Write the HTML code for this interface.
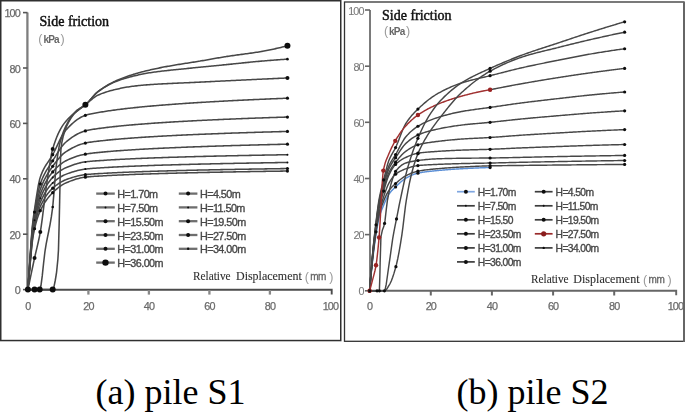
<!DOCTYPE html>
<html><head><meta charset="utf-8"><style>html,body{margin:0;padding:0;background:#fff;width:685px;height:412px;overflow:hidden}svg{display:block}</style></head>
<body>
<svg width="685" height="412" viewBox="0 0 685 412"><defs><filter id="soft" x="0" y="0" width="100%" height="100%"><feGaussianBlur stdDeviation="0.6"/></filter></defs><style>.tk{font-family:"Liberation Sans",sans-serif;font-size:10.8px;fill:#6a6a6a;stroke:#6a6a6a;stroke-width:0.25px;letter-spacing:-0.9px}.lg{font-family:"Liberation Sans",sans-serif;font-size:10.8px;fill:#474747;stroke:#474747;stroke-width:0.35px;letter-spacing:-0.55px}.tkr{fill:#7a7a7a;stroke:#7a7a7a;stroke-width:0.1px}.lg2{font-family:"Liberation Sans",sans-serif;font-size:10.3px;fill:#474747;stroke:#474747;stroke-width:0.35px;letter-spacing:-0.6px}.ttl{font-family:"Liberation Serif",serif;font-size:14px;fill:#111;stroke:#111;stroke-width:0.45px}.un{font-family:"Liberation Sans",sans-serif;font-size:10px;fill:#666;letter-spacing:-0.8px;font-weight:bold}.par{font-family:"Liberation Sans",sans-serif;font-size:12.5px;fill:#9a9a9a}.mm{font-family:"Liberation Sans",sans-serif;font-size:10px;fill:#666;stroke:#666;stroke-width:0.3px;letter-spacing:-0.4px}.xl{font-family:"Liberation Serif",serif;font-size:11.5px;fill:#2e2e2e;stroke:#2e2e2e;stroke-width:0.1px}.cap{font-family:"Liberation Serif",serif;font-size:36px;fill:#000}</style><rect width="685" height="412" fill="#fff"/><g filter="url(#soft)"><path d="M27.4,12.6 V289.8" fill="none" stroke="#7e7e7e" stroke-width="2.3"/><path d="M27.4,289.8 H331.7 V294.5" fill="none" stroke="#4c4c4c" stroke-width="1.9"/><line x1="23" y1="289.6" x2="27.5" y2="289.6" stroke="#555" stroke-width="1.6"/><text x="19.8" y="294.2" text-anchor="end" class="tk">0</text><line x1="23" y1="234.2" x2="27.5" y2="234.2" stroke="#555" stroke-width="1.6"/><text x="19.8" y="238.8" text-anchor="end" class="tk">20</text><line x1="23" y1="178.8" x2="27.5" y2="178.8" stroke="#555" stroke-width="1.6"/><text x="19.8" y="183.4" text-anchor="end" class="tk">40</text><line x1="23" y1="123.4" x2="27.5" y2="123.4" stroke="#555" stroke-width="1.6"/><text x="19.8" y="128.0" text-anchor="end" class="tk">60</text><line x1="23" y1="68.0" x2="27.5" y2="68.0" stroke="#555" stroke-width="1.6"/><text x="19.8" y="72.6" text-anchor="end" class="tk">80</text><line x1="23" y1="12.6" x2="27.5" y2="12.6" stroke="#555" stroke-width="1.6"/><text x="19.8" y="17.2" text-anchor="end" class="tk">100</text><line x1="88.4" y1="290" x2="88.4" y2="294.6" stroke="#888" stroke-width="2.3"/><line x1="148.9" y1="290" x2="148.9" y2="294.6" stroke="#888" stroke-width="2.3"/><line x1="209.4" y1="290" x2="209.4" y2="294.6" stroke="#888" stroke-width="2.3"/><line x1="269.9" y1="290" x2="269.9" y2="294.6" stroke="#888" stroke-width="2.3"/><text x="27.9" y="309.6" text-anchor="middle" class="tk">0</text><text x="88.4" y="309.6" text-anchor="middle" class="tk">20</text><text x="148.9" y="309.6" text-anchor="middle" class="tk">40</text><text x="209.4" y="309.6" text-anchor="middle" class="tk">60</text><text x="269.9" y="309.6" text-anchor="middle" class="tk">80</text><text x="330.4" y="309.6" text-anchor="middle" class="tk">100</text><path d="M370,10.0 V290.8" fill="none" stroke="#5a5a5a" stroke-width="1.6"/><path d="M370,290.7 H676.2 V295.2" fill="none" stroke="#666" stroke-width="1.9"/><line x1="365" y1="290.8" x2="370" y2="290.8" stroke="#666" stroke-width="1.6"/><text x="363.6" y="295.3" text-anchor="end" class="tk tkr">0</text><line x1="365" y1="234.6" x2="370" y2="234.6" stroke="#666" stroke-width="1.6"/><text x="363.6" y="239.1" text-anchor="end" class="tk tkr">20</text><line x1="365" y1="178.5" x2="370" y2="178.5" stroke="#666" stroke-width="1.6"/><text x="363.6" y="183.0" text-anchor="end" class="tk tkr">40</text><line x1="365" y1="122.3" x2="370" y2="122.3" stroke="#666" stroke-width="1.6"/><text x="363.6" y="126.8" text-anchor="end" class="tk tkr">60</text><line x1="365" y1="66.2" x2="370" y2="66.2" stroke="#666" stroke-width="1.6"/><text x="363.6" y="70.7" text-anchor="end" class="tk tkr">80</text><line x1="365" y1="10.0" x2="370" y2="10.0" stroke="#666" stroke-width="1.6"/><text x="363.6" y="14.5" text-anchor="end" class="tk tkr">100</text><line x1="430.8" y1="290.8" x2="430.8" y2="295.5" stroke="#666" stroke-width="2"/><line x1="491.9" y1="290.8" x2="491.9" y2="295.5" stroke="#666" stroke-width="2"/><line x1="553.1" y1="290.8" x2="553.1" y2="295.5" stroke="#666" stroke-width="2"/><line x1="614.2" y1="290.8" x2="614.2" y2="295.5" stroke="#666" stroke-width="2"/><text x="369.6" y="310" text-anchor="middle" class="tk">0</text><text x="430.8" y="310" text-anchor="middle" class="tk">20</text><text x="491.9" y="310" text-anchor="middle" class="tk">40</text><text x="553.1" y="310" text-anchor="middle" class="tk">60</text><text x="614.2" y="310" text-anchor="middle" class="tk">80</text><text x="675.4" y="310" text-anchor="middle" class="tk">100</text><text x="39.5" y="25.8" class="ttl">Side friction</text><text x="38.3" y="43.2" class="par">(</text><text x="43.4" y="42.8" class="un">kPa</text><text x="60.6" y="43.2" class="par">)</text><text x="382" y="19.8" class="ttl">Side friction</text><text x="383.9" y="35.4" class="par">(</text><text x="389" y="35" class="un">kPa</text><text x="406.1" y="35.4" class="par">)</text><text x="193" y="280.2" class="xl" textLength="37.6" lengthAdjust="spacingAndGlyphs">Relative</text><text x="236" y="280.2" class="xl" textLength="65.8" lengthAdjust="spacingAndGlyphs">Displacement</text><text x="304.8" y="280.8" class="par">(</text><text x="310.2" y="280.2" class="mm">mm</text><text x="329.2" y="280.8" class="par">)</text><text x="531" y="283" class="xl" textLength="37.6" lengthAdjust="spacingAndGlyphs">Relative</text><text x="573.3" y="283" class="xl" textLength="66.2" lengthAdjust="spacingAndGlyphs">Displacement</text><text x="643" y="283.6" class="par">(</text><text x="648.5" y="283" class="mm">mm</text><text x="667.5" y="283.6" class="par">)</text><path d="M27.90,289.60 L29.20,274.41 L30.32,262.18 L30.51,260.15 L31.81,246.21 L32.44,240.85 L33.12,236.22 L34.42,229.24 L34.55,228.66 L35.73,223.96 L37.03,219.37 L38.33,215.43 L39.64,212.11 L40.30,210.66 L40.94,209.35 L42.25,206.85 L43.55,204.54 L44.86,202.41 L46.16,200.45 L47.46,198.64 L48.77,196.97 L50.07,195.43 L51.38,194.00 L52.68,192.67 L52.70,192.65 L53.98,191.42 L55.29,190.21 L56.59,189.07 L57.90,187.98 L59.20,186.96 L60.51,186.02 L61.81,185.14 L63.11,184.35 L64.42,183.65 L65.71,183.03 L65.72,183.03 L67.03,182.46 L68.33,181.92 L69.64,181.39 L70.94,180.88 L72.24,180.40 L73.55,179.94 L74.85,179.51 L76.16,179.10 L77.46,178.73 L78.77,178.38 L80.07,178.06 L81.37,177.78 L82.68,177.53 L83.98,177.32 L85.29,177.15 L85.38,177.14 L86.59,177.00 L87.90,176.87 L89.20,176.75 L90.50,176.64 L91.81,176.53 L93.11,176.44 L94.42,176.35 L95.72,176.27 L97.03,176.19 L98.33,176.11 L99.63,176.04 L100.94,175.97 L102.24,175.90 L103.53,175.82 L103.55,175.82 L104.85,175.75 L106.15,175.68 L107.46,175.60 L108.76,175.54 L110.07,175.47 L111.37,175.40 L112.68,175.34 L113.98,175.27 L115.28,175.21 L116.59,175.15 L117.89,175.09 L119.20,175.03 L120.50,174.97 L121.81,174.92 L123.11,174.86 L124.41,174.81 L125.72,174.75 L127.02,174.70 L128.33,174.65 L129.63,174.60 L130.94,174.54 L132.24,174.49 L133.54,174.44 L133.78,174.44 L134.85,174.39 L136.15,174.35 L137.46,174.30 L138.76,174.25 L140.07,174.20 L141.37,174.16 L142.67,174.11 L143.98,174.07 L145.28,174.03 L146.59,173.98 L147.89,173.94 L149.19,173.90 L150.50,173.86 L151.80,173.82 L153.11,173.77 L154.41,173.73 L155.72,173.70 L157.02,173.66 L158.32,173.62 L159.63,173.58 L160.93,173.54 L162.24,173.50 L163.54,173.47 L164.03,173.45 L164.85,173.43 L166.15,173.39 L167.45,173.36 L168.76,173.32 L170.06,173.29 L171.37,173.25 L172.67,173.22 L173.98,173.18 L175.28,173.15 L176.58,173.11 L177.89,173.08 L179.19,173.05 L180.50,173.02 L181.80,172.98 L183.11,172.95 L184.41,172.92 L185.71,172.89 L187.02,172.86 L188.32,172.83 L189.63,172.80 L190.93,172.77 L192.24,172.74 L193.54,172.71 L194.28,172.69 L194.84,172.68 L196.15,172.65 L197.45,172.62 L198.76,172.59 L200.06,172.56 L201.36,172.53 L202.67,172.50 L203.97,172.48 L205.28,172.45 L206.58,172.42 L207.89,172.39 L209.19,172.37 L210.49,172.34 L211.80,172.31 L213.10,172.29 L214.41,172.26 L215.71,172.23 L217.02,172.21 L218.32,172.18 L219.62,172.16 L220.93,172.13 L222.23,172.11 L223.54,172.08 L224.53,172.06 L224.84,172.06 L226.15,172.03 L227.45,172.01 L228.75,171.98 L230.06,171.96 L231.36,171.94 L232.67,171.91 L233.97,171.89 L235.28,171.87 L236.58,171.84 L237.88,171.82 L239.19,171.80 L240.49,171.77 L241.80,171.75 L243.10,171.73 L244.40,171.71 L245.71,171.69 L247.01,171.66 L248.32,171.64 L249.62,171.62 L250.93,171.60 L252.23,171.58 L253.53,171.56 L254.78,171.54 L254.84,171.53 L256.14,171.51 L257.45,171.49 L258.75,171.47 L260.06,171.45 L261.36,171.43 L262.66,171.41 L263.97,171.39 L265.27,171.37 L266.58,171.35 L267.88,171.33 L269.19,171.31 L270.49,171.29 L271.79,171.27 L273.10,171.25 L274.40,171.23 L275.71,171.21 L277.01,171.19 L278.32,171.17 L279.62,171.15 L280.92,171.14 L282.23,171.12 L283.53,171.10 L284.84,171.08 L286.14,171.06 L287.44,171.04" fill="none" stroke="#474747" stroke-width="1.55"/>
<path d="M27.90,289.60 L29.20,273.72 L30.32,260.93 L30.51,258.81 L31.81,244.24 L32.44,238.63 L33.12,233.81 L34.42,226.51 L34.55,225.89 L35.73,220.86 L37.03,215.88 L38.33,211.60 L39.64,208.03 L40.30,206.50 L40.94,205.15 L42.25,202.55 L43.55,200.15 L44.86,197.94 L46.16,195.92 L47.46,194.07 L48.77,192.39 L50.07,190.86 L51.38,189.48 L52.68,188.24 L52.70,188.22 L53.98,187.09 L55.29,186.01 L56.59,185.00 L57.90,184.05 L59.20,183.17 L60.51,182.36 L61.81,181.62 L63.11,180.94 L64.42,180.33 L65.71,179.80 L65.72,179.80 L67.03,179.31 L68.33,178.83 L69.64,178.37 L70.94,177.94 L72.24,177.52 L73.55,177.12 L74.85,176.75 L76.16,176.39 L77.46,176.07 L78.77,175.76 L80.07,175.49 L81.37,175.24 L82.68,175.01 L83.98,174.82 L85.29,174.66 L85.38,174.65 L86.59,174.51 L87.90,174.38 L89.20,174.26 L90.50,174.15 L91.81,174.05 L93.11,173.95 L94.42,173.86 L95.72,173.78 L97.03,173.70 L98.33,173.62 L99.63,173.55 L100.94,173.48 L102.24,173.40 L103.53,173.33 L103.55,173.33 L104.85,173.25 L106.15,173.18 L107.46,173.11 L108.76,173.04 L110.07,172.98 L111.37,172.91 L112.68,172.84 L113.98,172.78 L115.28,172.72 L116.59,172.66 L117.89,172.60 L119.20,172.54 L120.50,172.48 L121.81,172.42 L123.11,172.37 L124.41,172.31 L125.72,172.26 L127.02,172.21 L128.33,172.15 L129.63,172.10 L130.94,172.05 L132.24,172.00 L133.54,171.95 L133.78,171.94 L134.85,171.90 L136.15,171.85 L137.46,171.81 L138.76,171.76 L140.07,171.71 L141.37,171.67 L142.67,171.62 L143.98,171.58 L145.28,171.53 L146.59,171.49 L147.89,171.45 L149.19,171.40 L150.50,171.36 L151.80,171.32 L153.11,171.28 L154.41,171.24 L155.72,171.20 L157.02,171.16 L158.32,171.12 L159.63,171.09 L160.93,171.05 L162.24,171.01 L163.54,170.97 L164.03,170.96 L164.85,170.94 L166.15,170.90 L167.45,170.86 L168.76,170.83 L170.06,170.79 L171.37,170.76 L172.67,170.72 L173.98,170.69 L175.28,170.65 L176.58,170.62 L177.89,170.59 L179.19,170.55 L180.50,170.52 L181.80,170.49 L183.11,170.46 L184.41,170.43 L185.71,170.40 L187.02,170.36 L188.32,170.33 L189.63,170.30 L190.93,170.27 L192.24,170.24 L193.54,170.21 L194.28,170.20 L194.84,170.18 L196.15,170.15 L197.45,170.12 L198.76,170.10 L200.06,170.07 L201.36,170.04 L202.67,170.01 L203.97,169.98 L205.28,169.95 L206.58,169.93 L207.89,169.90 L209.19,169.87 L210.49,169.85 L211.80,169.82 L213.10,169.79 L214.41,169.77 L215.71,169.74 L217.02,169.72 L218.32,169.69 L219.62,169.66 L220.93,169.64 L222.23,169.61 L223.54,169.59 L224.53,169.57 L224.84,169.57 L226.15,169.54 L227.45,169.52 L228.75,169.49 L230.06,169.47 L231.36,169.44 L232.67,169.42 L233.97,169.40 L235.28,169.37 L236.58,169.35 L237.88,169.33 L239.19,169.30 L240.49,169.28 L241.80,169.26 L243.10,169.24 L244.40,169.21 L245.71,169.19 L247.01,169.17 L248.32,169.15 L249.62,169.13 L250.93,169.11 L252.23,169.08 L253.53,169.06 L254.78,169.04 L254.84,169.04 L256.14,169.02 L257.45,169.00 L258.75,168.98 L260.06,168.96 L261.36,168.94 L262.66,168.92 L263.97,168.90 L265.27,168.88 L266.58,168.86 L267.88,168.84 L269.19,168.82 L270.49,168.80 L271.79,168.78 L273.10,168.76 L274.40,168.74 L275.71,168.72 L277.01,168.70 L278.32,168.68 L279.62,168.66 L280.92,168.64 L282.23,168.62 L283.53,168.61 L284.84,168.59 L286.14,168.57 L287.44,168.55" fill="none" stroke="#474747" stroke-width="1.55"/>
<path d="M27.90,289.60 L29.20,273.03 L30.32,259.68 L30.51,257.47 L31.81,242.27 L32.44,236.42 L33.12,231.39 L34.42,223.77 L34.55,223.12 L35.73,217.77 L37.03,212.43 L38.33,207.82 L39.64,203.98 L40.30,202.35 L40.94,200.90 L42.25,198.13 L43.55,195.58 L44.86,193.23 L46.16,191.07 L47.46,189.11 L48.77,187.33 L50.07,185.72 L51.38,184.27 L52.68,182.98 L52.70,182.96 L53.98,181.80 L55.29,180.69 L56.59,179.65 L57.90,178.69 L59.20,177.79 L60.51,176.96 L61.81,176.21 L63.11,175.52 L64.42,174.91 L65.71,174.37 L65.72,174.36 L67.03,173.86 L68.33,173.38 L69.64,172.91 L70.94,172.47 L72.24,172.04 L73.55,171.64 L74.85,171.26 L76.16,170.91 L77.46,170.57 L78.77,170.26 L80.07,169.98 L81.37,169.72 L82.68,169.49 L83.98,169.29 L85.29,169.12 L85.38,169.11 L86.59,168.96 L87.90,168.82 L89.20,168.69 L90.50,168.57 L91.81,168.46 L93.11,168.35 L94.42,168.26 L95.72,168.16 L97.03,168.08 L98.33,167.99 L99.63,167.91 L100.94,167.83 L102.24,167.75 L103.53,167.67 L103.55,167.67 L104.85,167.59 L106.15,167.51 L107.46,167.43 L108.76,167.36 L110.07,167.28 L111.37,167.21 L112.68,167.14 L113.98,167.07 L115.28,167.00 L116.59,166.94 L117.89,166.87 L119.20,166.81 L120.50,166.74 L121.81,166.68 L123.11,166.62 L124.41,166.56 L125.72,166.50 L127.02,166.44 L128.33,166.39 L129.63,166.33 L130.94,166.28 L132.24,166.22 L133.54,166.17 L133.78,166.16 L134.85,166.11 L136.15,166.06 L137.46,166.01 L138.76,165.96 L140.07,165.90 L141.37,165.86 L142.67,165.81 L143.98,165.76 L145.28,165.71 L146.59,165.66 L147.89,165.62 L149.19,165.57 L150.50,165.53 L151.80,165.48 L153.11,165.44 L154.41,165.39 L155.72,165.35 L157.02,165.31 L158.32,165.26 L159.63,165.22 L160.93,165.18 L162.24,165.14 L163.54,165.10 L164.03,165.08 L164.85,165.06 L166.15,165.02 L167.45,164.98 L168.76,164.94 L170.06,164.90 L171.37,164.86 L172.67,164.83 L173.98,164.79 L175.28,164.75 L176.58,164.72 L177.89,164.68 L179.19,164.64 L180.50,164.61 L181.80,164.57 L183.11,164.54 L184.41,164.50 L185.71,164.47 L187.02,164.43 L188.32,164.40 L189.63,164.37 L190.93,164.33 L192.24,164.30 L193.54,164.27 L194.28,164.25 L194.84,164.24 L196.15,164.21 L197.45,164.17 L198.76,164.14 L200.06,164.11 L201.36,164.08 L202.67,164.05 L203.97,164.02 L205.28,163.99 L206.58,163.96 L207.89,163.93 L209.19,163.90 L210.49,163.87 L211.80,163.84 L213.10,163.81 L214.41,163.78 L215.71,163.76 L217.02,163.73 L218.32,163.70 L219.62,163.67 L220.93,163.64 L222.23,163.62 L223.54,163.59 L224.53,163.57 L224.84,163.56 L226.15,163.54 L227.45,163.51 L228.75,163.48 L230.06,163.46 L231.36,163.43 L232.67,163.41 L233.97,163.38 L235.28,163.35 L236.58,163.33 L237.88,163.30 L239.19,163.28 L240.49,163.25 L241.80,163.23 L243.10,163.21 L244.40,163.18 L245.71,163.16 L247.01,163.13 L248.32,163.11 L249.62,163.09 L250.93,163.06 L252.23,163.04 L253.53,163.02 L254.78,162.99 L254.84,162.99 L256.14,162.97 L257.45,162.95 L258.75,162.92 L260.06,162.90 L261.36,162.88 L262.66,162.86 L263.97,162.83 L265.27,162.81 L266.58,162.79 L267.88,162.77 L269.19,162.75 L270.49,162.72 L271.79,162.70 L273.10,162.68 L274.40,162.66 L275.71,162.64 L277.01,162.62 L278.32,162.60 L279.62,162.58 L280.92,162.56 L282.23,162.54 L283.53,162.52 L284.84,162.50 L286.14,162.48 L287.44,162.46" fill="none" stroke="#474747" stroke-width="1.55"/>
<path d="M27.90,289.60 L29.20,272.34 L30.32,258.44 L30.51,256.13 L31.81,240.30 L32.44,234.20 L33.12,228.98 L34.42,221.04 L34.55,220.35 L35.73,214.68 L37.03,209.00 L38.33,204.06 L39.64,199.94 L40.30,198.19 L40.94,196.65 L42.25,193.69 L43.55,190.97 L44.86,188.46 L46.16,186.17 L47.46,184.07 L48.77,182.16 L50.07,180.43 L51.38,178.86 L52.68,177.44 L52.70,177.42 L53.98,176.13 L55.29,174.90 L56.59,173.74 L57.90,172.66 L59.20,171.65 L60.51,170.72 L61.81,169.87 L63.11,169.10 L64.42,168.41 L65.71,167.80 L65.72,167.79 L67.03,167.23 L68.33,166.69 L69.64,166.17 L70.94,165.67 L72.24,165.19 L73.55,164.74 L74.85,164.31 L76.16,163.91 L77.46,163.54 L78.77,163.19 L80.07,162.87 L81.37,162.59 L82.68,162.33 L83.98,162.11 L85.29,161.91 L85.38,161.90 L86.59,161.75 L87.90,161.59 L89.20,161.45 L90.50,161.32 L91.81,161.20 L93.11,161.09 L94.42,160.98 L95.72,160.88 L97.03,160.79 L98.33,160.70 L99.63,160.61 L100.94,160.52 L102.24,160.43 L103.53,160.35 L103.55,160.35 L104.85,160.26 L106.15,160.17 L107.46,160.09 L108.76,160.01 L110.07,159.93 L111.37,159.85 L112.68,159.77 L113.98,159.70 L115.28,159.63 L116.59,159.55 L117.89,159.48 L119.20,159.41 L120.50,159.35 L121.81,159.28 L123.11,159.21 L124.41,159.15 L125.72,159.08 L127.02,159.02 L128.33,158.96 L129.63,158.90 L130.94,158.84 L132.24,158.78 L133.54,158.72 L133.78,158.71 L134.85,158.66 L136.15,158.60 L137.46,158.55 L138.76,158.49 L140.07,158.44 L141.37,158.38 L142.67,158.33 L143.98,158.28 L145.28,158.22 L146.59,158.17 L147.89,158.12 L149.19,158.07 L150.50,158.02 L151.80,157.98 L153.11,157.93 L154.41,157.88 L155.72,157.83 L157.02,157.79 L158.32,157.74 L159.63,157.70 L160.93,157.65 L162.24,157.61 L163.54,157.56 L164.03,157.55 L164.85,157.52 L166.15,157.48 L167.45,157.43 L168.76,157.39 L170.06,157.35 L171.37,157.31 L172.67,157.27 L173.98,157.23 L175.28,157.19 L176.58,157.15 L177.89,157.11 L179.19,157.07 L180.50,157.03 L181.80,156.99 L183.11,156.95 L184.41,156.92 L185.71,156.88 L187.02,156.84 L188.32,156.81 L189.63,156.77 L190.93,156.74 L192.24,156.70 L193.54,156.66 L194.28,156.64 L194.84,156.63 L196.15,156.59 L197.45,156.56 L198.76,156.53 L200.06,156.49 L201.36,156.46 L202.67,156.43 L203.97,156.39 L205.28,156.36 L206.58,156.33 L207.89,156.30 L209.19,156.26 L210.49,156.23 L211.80,156.20 L213.10,156.17 L214.41,156.14 L215.71,156.11 L217.02,156.08 L218.32,156.05 L219.62,156.02 L220.93,155.99 L222.23,155.96 L223.54,155.93 L224.53,155.91 L224.84,155.90 L226.15,155.87 L227.45,155.84 L228.75,155.81 L230.06,155.78 L231.36,155.76 L232.67,155.73 L233.97,155.70 L235.28,155.67 L236.58,155.65 L237.88,155.62 L239.19,155.59 L240.49,155.56 L241.80,155.54 L243.10,155.51 L244.40,155.49 L245.71,155.46 L247.01,155.43 L248.32,155.41 L249.62,155.38 L250.93,155.36 L252.23,155.33 L253.53,155.31 L254.78,155.28 L254.84,155.28 L256.14,155.26 L257.45,155.23 L258.75,155.21 L260.06,155.18 L261.36,155.16 L262.66,155.13 L263.97,155.11 L265.27,155.09 L266.58,155.06 L267.88,155.04 L269.19,155.01 L270.49,154.99 L271.79,154.97 L273.10,154.94 L274.40,154.92 L275.71,154.90 L277.01,154.88 L278.32,154.85 L279.62,154.83 L280.92,154.81 L282.23,154.79 L283.53,154.77 L284.84,154.74 L286.14,154.72 L287.44,154.70" fill="none" stroke="#474747" stroke-width="1.55"/>
<path d="M27.90,289.60 L29.20,271.65 L30.32,257.19 L30.51,254.79 L31.81,238.32 L32.44,231.98 L33.12,226.56 L34.42,218.30 L34.55,217.58 L35.73,211.60 L37.03,205.56 L38.33,200.30 L39.64,195.90 L40.30,194.04 L40.94,192.40 L42.25,189.25 L43.55,186.37 L44.86,183.72 L46.16,181.29 L47.46,179.07 L48.77,177.04 L50.07,175.18 L51.38,173.47 L52.68,171.90 L52.70,171.88 L53.98,170.44 L55.29,169.04 L56.59,167.73 L57.90,166.49 L59.20,165.33 L60.51,164.26 L61.81,163.27 L63.11,162.38 L64.42,161.58 L65.71,160.88 L65.72,160.88 L67.03,160.24 L68.33,159.62 L69.64,159.03 L70.94,158.47 L72.24,157.94 L73.55,157.43 L74.85,156.95 L76.16,156.50 L77.46,156.08 L78.77,155.69 L80.07,155.32 L81.37,154.99 L82.68,154.68 L83.98,154.41 L85.29,154.16 L85.38,154.15 L86.59,153.94 L87.90,153.74 L89.20,153.54 L90.50,153.36 L91.81,153.20 L93.11,153.04 L94.42,152.89 L95.72,152.75 L97.03,152.61 L98.33,152.48 L99.63,152.36 L100.94,152.24 L102.24,152.11 L103.53,151.99 L103.55,151.99 L104.85,151.87 L106.15,151.75 L107.46,151.64 L108.76,151.53 L110.07,151.41 L111.37,151.31 L112.68,151.20 L113.98,151.10 L115.28,150.99 L116.59,150.89 L117.89,150.80 L119.20,150.70 L120.50,150.61 L121.81,150.51 L123.11,150.42 L124.41,150.33 L125.72,150.24 L127.02,150.16 L128.33,150.07 L129.63,149.99 L130.94,149.90 L132.24,149.82 L133.54,149.74 L133.78,149.72 L134.85,149.66 L136.15,149.58 L137.46,149.50 L138.76,149.42 L140.07,149.35 L141.37,149.27 L142.67,149.20 L143.98,149.13 L145.28,149.05 L146.59,148.98 L147.89,148.91 L149.19,148.85 L150.50,148.78 L151.80,148.71 L153.11,148.64 L154.41,148.58 L155.72,148.51 L157.02,148.45 L158.32,148.39 L159.63,148.32 L160.93,148.26 L162.24,148.20 L163.54,148.14 L164.03,148.12 L164.85,148.08 L166.15,148.02 L167.45,147.96 L168.76,147.90 L170.06,147.84 L171.37,147.79 L172.67,147.73 L173.98,147.67 L175.28,147.62 L176.58,147.56 L177.89,147.51 L179.19,147.45 L180.50,147.40 L181.80,147.35 L183.11,147.30 L184.41,147.24 L185.71,147.19 L187.02,147.14 L188.32,147.09 L189.63,147.04 L190.93,146.99 L192.24,146.94 L193.54,146.89 L194.28,146.87 L194.84,146.85 L196.15,146.80 L197.45,146.75 L198.76,146.70 L200.06,146.66 L201.36,146.61 L202.67,146.56 L203.97,146.52 L205.28,146.47 L206.58,146.43 L207.89,146.38 L209.19,146.34 L210.49,146.30 L211.80,146.25 L213.10,146.21 L214.41,146.17 L215.71,146.12 L217.02,146.08 L218.32,146.04 L219.62,146.00 L220.93,145.96 L222.23,145.92 L223.54,145.87 L224.53,145.84 L224.84,145.83 L226.15,145.79 L227.45,145.75 L228.75,145.71 L230.06,145.68 L231.36,145.64 L232.67,145.60 L233.97,145.56 L235.28,145.52 L236.58,145.48 L237.88,145.45 L239.19,145.41 L240.49,145.37 L241.80,145.33 L243.10,145.30 L244.40,145.26 L245.71,145.22 L247.01,145.19 L248.32,145.15 L249.62,145.12 L250.93,145.08 L252.23,145.05 L253.53,145.01 L254.78,144.98 L254.84,144.98 L256.14,144.94 L257.45,144.91 L258.75,144.88 L260.06,144.84 L261.36,144.81 L262.66,144.77 L263.97,144.74 L265.27,144.71 L266.58,144.67 L267.88,144.64 L269.19,144.61 L270.49,144.58 L271.79,144.54 L273.10,144.51 L274.40,144.48 L275.71,144.45 L277.01,144.42 L278.32,144.39 L279.62,144.36 L280.92,144.33 L282.23,144.29 L283.53,144.26 L284.84,144.23 L286.14,144.20 L287.44,144.18" fill="none" stroke="#474747" stroke-width="1.55"/>
<path d="M27.90,289.60 L29.20,270.96 L30.32,255.94 L30.51,253.45 L31.81,236.35 L32.44,229.77 L33.12,224.15 L34.42,215.57 L34.55,214.81 L35.73,208.40 L37.03,201.84 L38.33,196.09 L39.64,191.32 L40.30,189.33 L40.94,187.61 L42.25,184.36 L43.55,181.42 L44.86,178.76 L46.16,176.33 L47.46,174.09 L48.77,172.02 L50.07,170.06 L51.38,168.19 L52.68,166.37 L52.70,166.34 L53.98,164.57 L55.29,162.82 L56.59,161.12 L57.90,159.49 L59.20,157.94 L60.51,156.49 L61.81,155.14 L63.11,153.92 L64.42,152.84 L65.71,151.91 L65.72,151.90 L67.03,151.06 L68.33,150.25 L69.64,149.47 L70.94,148.72 L72.24,148.02 L73.55,147.34 L74.85,146.71 L76.16,146.11 L77.46,145.55 L78.77,145.03 L80.07,144.56 L81.37,144.12 L82.68,143.73 L83.98,143.39 L85.29,143.09 L85.38,143.07 L86.59,142.82 L87.90,142.58 L89.20,142.35 L90.50,142.14 L91.81,141.94 L93.11,141.76 L94.42,141.59 L95.72,141.42 L97.03,141.27 L98.33,141.12 L99.63,140.98 L100.94,140.84 L102.24,140.70 L103.53,140.56 L103.55,140.55 L104.85,140.41 L106.15,140.27 L107.46,140.14 L108.76,140.01 L110.07,139.88 L111.37,139.75 L112.68,139.63 L113.98,139.51 L115.28,139.39 L116.59,139.27 L117.89,139.16 L119.20,139.05 L120.50,138.94 L121.81,138.83 L123.11,138.72 L124.41,138.62 L125.72,138.51 L127.02,138.41 L128.33,138.31 L129.63,138.21 L130.94,138.12 L132.24,138.02 L133.54,137.92 L133.78,137.91 L134.85,137.83 L136.15,137.74 L137.46,137.65 L138.76,137.56 L140.07,137.47 L141.37,137.38 L142.67,137.29 L143.98,137.21 L145.28,137.13 L146.59,137.04 L147.89,136.96 L149.19,136.88 L150.50,136.80 L151.80,136.72 L153.11,136.65 L154.41,136.57 L155.72,136.49 L157.02,136.42 L158.32,136.35 L159.63,136.27 L160.93,136.20 L162.24,136.13 L163.54,136.06 L164.03,136.03 L164.85,135.99 L166.15,135.92 L167.45,135.85 L168.76,135.78 L170.06,135.71 L171.37,135.65 L172.67,135.58 L173.98,135.51 L175.28,135.45 L176.58,135.38 L177.89,135.32 L179.19,135.26 L180.50,135.20 L181.80,135.14 L183.11,135.07 L184.41,135.01 L185.71,134.95 L187.02,134.89 L188.32,134.84 L189.63,134.78 L190.93,134.72 L192.24,134.66 L193.54,134.60 L194.28,134.57 L194.84,134.55 L196.15,134.49 L197.45,134.44 L198.76,134.38 L200.06,134.33 L201.36,134.27 L202.67,134.22 L203.97,134.17 L205.28,134.11 L206.58,134.06 L207.89,134.01 L209.19,133.96 L210.49,133.91 L211.80,133.86 L213.10,133.81 L214.41,133.76 L215.71,133.71 L217.02,133.66 L218.32,133.61 L219.62,133.56 L220.93,133.51 L222.23,133.46 L223.54,133.42 L224.53,133.38 L224.84,133.37 L226.15,133.32 L227.45,133.28 L228.75,133.23 L230.06,133.18 L231.36,133.14 L232.67,133.09 L233.97,133.05 L235.28,133.00 L236.58,132.96 L237.88,132.92 L239.19,132.87 L240.49,132.83 L241.80,132.79 L243.10,132.74 L244.40,132.70 L245.71,132.66 L247.01,132.62 L248.32,132.57 L249.62,132.53 L250.93,132.49 L252.23,132.45 L253.53,132.41 L254.78,132.37 L254.84,132.37 L256.14,132.33 L257.45,132.29 L258.75,132.25 L260.06,132.21 L261.36,132.17 L262.66,132.13 L263.97,132.09 L265.27,132.05 L266.58,132.02 L267.88,131.98 L269.19,131.94 L270.49,131.90 L271.79,131.86 L273.10,131.83 L274.40,131.79 L275.71,131.75 L277.01,131.72 L278.32,131.68 L279.62,131.64 L280.92,131.61 L282.23,131.57 L283.53,131.54 L284.84,131.50 L286.14,131.47 L287.44,131.43" fill="none" stroke="#474747" stroke-width="1.55"/>
<path d="M27.90,289.60 L29.20,270.27 L30.32,254.70 L30.51,252.11 L31.81,234.38 L32.44,227.55 L33.12,221.76 L34.42,212.86 L34.55,212.04 L35.73,205.04 L37.03,197.70 L38.33,191.19 L39.64,185.90 L40.30,183.79 L40.94,182.02 L42.25,178.74 L43.55,175.85 L44.86,173.28 L46.16,170.95 L47.46,168.82 L48.77,166.80 L50.07,164.84 L51.38,162.88 L52.68,160.83 L52.70,160.80 L53.98,158.71 L55.29,156.56 L56.59,154.42 L57.90,152.32 L59.20,150.29 L60.51,148.35 L61.81,146.55 L63.11,144.91 L64.42,143.46 L65.71,142.25 L65.72,142.24 L67.03,141.15 L68.33,140.11 L69.64,139.10 L70.94,138.14 L72.24,137.22 L73.55,136.35 L74.85,135.52 L76.16,134.75 L77.46,134.03 L78.77,133.36 L80.07,132.75 L81.37,132.20 L82.68,131.70 L83.98,131.27 L85.29,130.90 L85.38,130.88 L86.59,130.58 L87.90,130.29 L89.20,130.01 L90.50,129.76 L91.81,129.53 L93.11,129.31 L94.42,129.11 L95.72,128.92 L97.03,128.73 L98.33,128.56 L99.63,128.39 L100.94,128.22 L102.24,128.05 L103.53,127.89 L103.55,127.89 L104.85,127.72 L106.15,127.55 L107.46,127.39 L108.76,127.24 L110.07,127.08 L111.37,126.93 L112.68,126.79 L113.98,126.64 L115.28,126.50 L116.59,126.36 L117.89,126.23 L119.20,126.09 L120.50,125.96 L121.81,125.83 L123.11,125.71 L124.41,125.58 L125.72,125.46 L127.02,125.34 L128.33,125.22 L129.63,125.10 L130.94,124.98 L132.24,124.87 L133.54,124.76 L133.78,124.74 L134.85,124.64 L136.15,124.53 L137.46,124.42 L138.76,124.32 L140.07,124.21 L141.37,124.11 L142.67,124.01 L143.98,123.91 L145.28,123.81 L146.59,123.71 L147.89,123.61 L149.19,123.52 L150.50,123.42 L151.80,123.33 L153.11,123.24 L154.41,123.14 L155.72,123.05 L157.02,122.97 L158.32,122.88 L159.63,122.79 L160.93,122.70 L162.24,122.62 L163.54,122.53 L164.03,122.50 L164.85,122.45 L166.15,122.37 L167.45,122.28 L168.76,122.20 L170.06,122.12 L171.37,122.04 L172.67,121.96 L173.98,121.89 L175.28,121.81 L176.58,121.73 L177.89,121.66 L179.19,121.58 L180.50,121.51 L181.80,121.44 L183.11,121.36 L184.41,121.29 L185.71,121.22 L187.02,121.15 L188.32,121.08 L189.63,121.01 L190.93,120.94 L192.24,120.87 L193.54,120.81 L194.28,120.77 L194.84,120.74 L196.15,120.67 L197.45,120.60 L198.76,120.54 L200.06,120.47 L201.36,120.41 L202.67,120.35 L203.97,120.28 L205.28,120.22 L206.58,120.16 L207.89,120.10 L209.19,120.03 L210.49,119.97 L211.80,119.91 L213.10,119.85 L214.41,119.79 L215.71,119.73 L217.02,119.68 L218.32,119.62 L219.62,119.56 L220.93,119.50 L222.23,119.45 L223.54,119.39 L224.53,119.35 L224.84,119.33 L226.15,119.28 L227.45,119.22 L228.75,119.17 L230.06,119.11 L231.36,119.06 L232.67,119.00 L233.97,118.95 L235.28,118.90 L236.58,118.85 L237.88,118.79 L239.19,118.74 L240.49,118.69 L241.80,118.64 L243.10,118.59 L244.40,118.54 L245.71,118.49 L247.01,118.44 L248.32,118.39 L249.62,118.34 L250.93,118.29 L252.23,118.24 L253.53,118.19 L254.78,118.15 L254.84,118.14 L256.14,118.10 L257.45,118.05 L258.75,118.00 L260.06,117.95 L261.36,117.91 L262.66,117.86 L263.97,117.81 L265.27,117.77 L266.58,117.72 L267.88,117.68 L269.19,117.63 L270.49,117.59 L271.79,117.54 L273.10,117.50 L274.40,117.45 L275.71,117.41 L277.01,117.37 L278.32,117.32 L279.62,117.28 L280.92,117.24 L282.23,117.20 L283.53,117.15 L284.84,117.11 L286.14,117.07 L287.44,117.03" fill="none" stroke="#474747" stroke-width="1.55"/>
<path d="M27.90,289.60 L29.20,269.58 L30.32,253.45 L30.51,250.77 L31.81,232.41 L32.44,225.34 L33.12,219.38 L34.42,210.15 L34.55,209.27 L35.73,201.48 L37.03,193.01 L38.33,185.42 L39.64,179.39 L40.30,177.14 L40.94,175.34 L42.25,172.10 L43.55,169.32 L44.86,166.92 L46.16,164.78 L47.46,162.82 L48.77,160.94 L50.07,159.03 L51.38,157.00 L52.68,154.75 L52.70,154.70 L53.98,152.25 L55.29,149.60 L56.59,146.86 L57.90,144.08 L59.20,141.34 L60.51,138.69 L61.81,136.20 L63.11,133.93 L64.42,131.94 L65.71,130.31 L65.72,130.30 L67.03,128.87 L68.33,127.49 L69.64,126.17 L70.94,124.89 L72.24,123.68 L73.55,122.53 L74.85,121.44 L76.16,120.42 L77.46,119.46 L78.77,118.59 L80.07,117.78 L81.37,117.06 L82.68,116.42 L83.98,115.86 L85.29,115.40 L85.38,115.37 L86.59,114.99 L87.90,114.62 L89.20,114.28 L90.50,113.97 L91.81,113.68 L93.11,113.41 L94.42,113.16 L95.72,112.92 L97.03,112.70 L98.33,112.49 L99.63,112.28 L100.94,112.07 L102.24,111.86 L103.53,111.66 L103.55,111.66 L104.85,111.45 L106.15,111.25 L107.46,111.05 L108.76,110.85 L110.07,110.66 L111.37,110.47 L112.68,110.29 L113.98,110.11 L115.28,109.94 L116.59,109.77 L117.89,109.60 L119.20,109.43 L120.50,109.27 L121.81,109.11 L123.11,108.95 L124.41,108.80 L125.72,108.64 L127.02,108.50 L128.33,108.35 L129.63,108.20 L130.94,108.06 L132.24,107.92 L133.54,107.77 L133.78,107.75 L134.85,107.64 L136.15,107.50 L137.46,107.36 L138.76,107.23 L140.07,107.10 L141.37,106.97 L142.67,106.84 L143.98,106.72 L145.28,106.60 L146.59,106.47 L147.89,106.35 L149.19,106.24 L150.50,106.12 L151.80,106.00 L153.11,105.89 L154.41,105.78 L155.72,105.66 L157.02,105.55 L158.32,105.45 L159.63,105.34 L160.93,105.23 L162.24,105.12 L163.54,105.02 L164.03,104.98 L164.85,104.91 L166.15,104.81 L167.45,104.71 L168.76,104.61 L170.06,104.51 L171.37,104.41 L172.67,104.31 L173.98,104.22 L175.28,104.12 L176.58,104.03 L177.89,103.93 L179.19,103.84 L180.50,103.75 L181.80,103.66 L183.11,103.57 L184.41,103.48 L185.71,103.39 L187.02,103.30 L188.32,103.22 L189.63,103.13 L190.93,103.04 L192.24,102.96 L193.54,102.88 L194.28,102.83 L194.84,102.79 L196.15,102.71 L197.45,102.63 L198.76,102.55 L200.06,102.46 L201.36,102.39 L202.67,102.31 L203.97,102.23 L205.28,102.15 L206.58,102.07 L207.89,102.00 L209.19,101.92 L210.49,101.84 L211.80,101.77 L213.10,101.70 L214.41,101.62 L215.71,101.55 L217.02,101.48 L218.32,101.40 L219.62,101.33 L220.93,101.26 L222.23,101.19 L223.54,101.12 L224.53,101.07 L224.84,101.05 L226.15,100.98 L227.45,100.91 L228.75,100.84 L230.06,100.78 L231.36,100.71 L232.67,100.64 L233.97,100.58 L235.28,100.51 L236.58,100.45 L237.88,100.38 L239.19,100.32 L240.49,100.25 L241.80,100.19 L243.10,100.13 L244.40,100.06 L245.71,100.00 L247.01,99.94 L248.32,99.88 L249.62,99.82 L250.93,99.76 L252.23,99.70 L253.53,99.64 L254.78,99.58 L254.84,99.58 L256.14,99.52 L257.45,99.46 L258.75,99.40 L260.06,99.34 L261.36,99.28 L262.66,99.22 L263.97,99.17 L265.27,99.11 L266.58,99.05 L267.88,99.00 L269.19,98.94 L270.49,98.88 L271.79,98.83 L273.10,98.77 L274.40,98.72 L275.71,98.67 L277.01,98.61 L278.32,98.56 L279.62,98.50 L280.92,98.45 L282.23,98.40 L283.53,98.35 L284.84,98.30 L286.14,98.24 L287.44,98.19" fill="none" stroke="#474747" stroke-width="1.55"/>
<path d="M27.90,289.60 L29.20,283.29 L30.51,277.04 L31.81,270.85 L33.12,264.72 L34.42,258.64 L34.55,258.02 L35.73,252.85 L37.03,247.39 L38.33,241.79 L39.64,235.56 L40.30,231.98 L40.94,228.10 L42.25,218.77 L43.55,208.32 L44.86,197.67 L46.16,187.73 L46.66,184.34 L47.46,178.94 L48.77,170.13 L50.07,161.76 L51.38,154.50 L52.68,148.97 L52.70,148.88 L53.98,144.76 L55.29,140.95 L56.59,137.51 L57.90,134.40 L59.20,131.61 L60.51,129.12 L61.81,126.89 L63.11,124.89 L64.20,123.40 L64.42,123.11 L65.72,121.49 L67.03,119.98 L68.33,118.58 L69.64,117.27 L70.94,116.04 L72.24,114.89 L73.55,113.80 L74.85,112.77 L76.16,111.77 L77.46,110.79 L78.77,109.84 L80.07,108.89 L81.37,107.93 L82.68,106.96 L83.98,105.96 L85.29,104.91 L85.38,104.84 L86.59,103.82 L87.90,102.69 L89.20,101.54 L90.50,100.40 L91.81,99.29 L93.11,98.24 L94.42,97.26 L95.72,96.39 L97.03,95.65 L97.47,95.42 L98.33,95.02 L99.63,94.45 L100.94,93.90 L102.24,93.39 L103.55,92.91 L104.85,92.46 L106.15,92.03 L107.46,91.62 L108.76,91.24 L110.07,90.87 L111.37,90.52 L112.68,90.18 L113.98,89.86 L115.02,89.61 L115.28,89.54 L116.59,89.23 L117.89,88.93 L119.20,88.64 L120.50,88.36 L121.81,88.09 L123.11,87.82 L124.41,87.57 L125.72,87.33 L127.02,87.11 L128.33,86.89 L129.63,86.69 L130.94,86.50 L132.24,86.32 L132.56,86.28 L133.54,86.16 L134.85,86.00 L136.15,85.86 L137.46,85.71 L138.76,85.58 L140.07,85.45 L141.37,85.32 L142.67,85.20 L143.98,85.09 L145.28,84.98 L146.59,84.88 L147.89,84.78 L149.19,84.68 L150.11,84.62 L150.50,84.59 L151.80,84.51 L153.11,84.42 L154.41,84.34 L155.72,84.26 L157.02,84.18 L158.32,84.10 L159.63,84.03 L160.93,83.95 L162.24,83.88 L163.54,83.81 L164.85,83.74 L166.15,83.68 L167.45,83.61 L168.76,83.55 L170.06,83.49 L171.37,83.42 L172.67,83.36 L173.98,83.30 L175.28,83.24 L176.58,83.18 L177.89,83.13 L179.19,83.07 L180.50,83.01 L181.80,82.95 L183.11,82.90 L184.41,82.84 L185.71,82.78 L187.02,82.73 L188.32,82.67 L189.63,82.61 L190.93,82.55 L192.24,82.49 L193.54,82.43 L194.84,82.37 L196.15,82.31 L197.45,82.25 L198.76,82.19 L200.02,82.13 L200.06,82.13 L201.36,82.06 L202.67,82.00 L203.97,81.93 L205.28,81.87 L206.58,81.80 L207.89,81.74 L209.19,81.67 L210.49,81.61 L211.80,81.54 L213.10,81.48 L214.41,81.42 L215.71,81.35 L217.02,81.29 L218.32,81.22 L219.62,81.16 L220.93,81.10 L222.23,81.03 L223.54,80.97 L224.84,80.90 L226.15,80.84 L227.45,80.78 L228.75,80.71 L230.06,80.65 L231.36,80.59 L232.67,80.52 L233.97,80.46 L235.28,80.40 L236.58,80.33 L237.88,80.27 L239.19,80.21 L239.65,80.19 L240.49,80.15 L241.80,80.09 L243.10,80.02 L244.40,79.96 L245.71,79.90 L247.01,79.84 L248.32,79.78 L249.62,79.72 L250.93,79.65 L252.23,79.59 L253.53,79.53 L254.84,79.47 L256.14,79.41 L257.45,79.35 L258.75,79.29 L260.06,79.23 L261.36,79.17 L262.66,79.10 L263.97,79.04 L265.27,78.98 L266.58,78.92 L267.88,78.86 L269.19,78.80 L270.49,78.74 L271.79,78.68 L273.10,78.62 L274.40,78.56 L275.71,78.50 L277.01,78.44 L278.32,78.39 L279.62,78.33 L280.92,78.27 L282.23,78.21 L283.53,78.15 L284.84,78.09 L286.14,78.03 L287.44,77.97" fill="none" stroke="#474747" stroke-width="1.55"/>
<path d="M27.90,289.60 L29.20,289.60 L30.51,289.60 L31.81,289.60 L33.12,289.60 L34.42,289.60 L34.55,289.60 L35.73,289.60 L37.03,289.60 L38.33,289.60 L39.64,289.60 L39.70,289.60 L40.94,285.78 L42.25,275.88 L43.55,263.50 L44.86,252.24 L45.14,250.27 L46.16,244.19 L47.46,237.38 L48.77,230.99 L50.07,224.31 L51.38,216.63 L52.68,207.25 L52.70,207.05 L53.98,192.71 L55.29,175.46 L56.03,167.72 L56.59,163.13 L57.90,153.64 L59.20,146.21 L59.66,144.18 L60.51,140.91 L61.81,136.45 L63.11,132.59 L64.42,129.26 L65.72,126.35 L67.03,123.77 L67.22,123.40 L68.33,121.42 L69.64,119.25 L70.94,117.26 L72.24,115.44 L73.55,113.81 L74.85,112.35 L76.16,111.06 L76.30,110.94 L77.46,109.97 L78.77,109.05 L80.07,108.23 L81.37,107.48 L82.68,106.71 L83.98,105.87 L85.29,104.91 L85.38,104.84 L86.59,103.77 L87.90,102.45 L89.20,101.01 L90.50,99.49 L91.81,97.95 L93.11,96.42 L94.42,94.97 L95.72,93.63 L97.03,92.46 L97.47,92.10 L98.33,91.45 L99.63,90.50 L100.94,89.58 L102.24,88.69 L103.55,87.84 L104.85,87.03 L106.15,86.25 L107.46,85.51 L108.76,84.79 L110.07,84.12 L111.37,83.47 L112.68,82.86 L113.98,82.29 L115.02,81.85 L115.28,81.74 L116.59,81.22 L117.89,80.73 L119.20,80.25 L120.50,79.80 L121.81,79.36 L123.11,78.94 L124.41,78.54 L125.72,78.15 L127.02,77.77 L128.33,77.41 L129.63,77.06 L130.94,76.72 L132.24,76.39 L132.56,76.31 L133.54,76.07 L134.85,75.75 L136.15,75.44 L137.46,75.14 L138.76,74.85 L140.07,74.56 L141.37,74.29 L142.67,74.02 L143.98,73.77 L145.28,73.52 L146.59,73.29 L147.89,73.06 L149.19,72.85 L150.11,72.71 L150.50,72.65 L151.80,72.46 L153.11,72.27 L154.41,72.09 L155.72,71.91 L157.02,71.74 L158.32,71.58 L159.63,71.41 L160.93,71.26 L162.24,71.10 L163.54,70.95 L164.85,70.80 L166.15,70.66 L167.45,70.51 L168.76,70.38 L170.06,70.24 L171.37,70.10 L172.67,69.97 L173.98,69.84 L175.28,69.70 L176.58,69.57 L177.89,69.44 L179.19,69.31 L180.50,69.19 L181.80,69.06 L183.11,68.93 L184.41,68.79 L185.71,68.66 L187.02,68.53 L188.32,68.39 L189.44,68.28 L189.63,68.26 L190.93,68.12 L192.24,67.98 L193.54,67.85 L194.84,67.72 L196.15,67.58 L197.45,67.45 L198.76,67.32 L200.06,67.19 L201.36,67.06 L202.67,66.93 L203.97,66.80 L205.28,66.67 L206.58,66.55 L207.89,66.42 L209.19,66.29 L210.49,66.16 L211.80,66.04 L213.10,65.91 L214.41,65.78 L215.71,65.66 L217.02,65.53 L218.32,65.40 L219.62,65.28 L220.93,65.15 L222.23,65.02 L223.54,64.89 L224.84,64.76 L225.74,64.68 L226.15,64.64 L227.45,64.50 L228.75,64.37 L230.06,64.24 L231.36,64.11 L232.67,63.97 L233.97,63.84 L235.28,63.70 L236.58,63.57 L237.88,63.43 L239.19,63.30 L240.49,63.16 L241.80,63.03 L243.10,62.89 L244.40,62.76 L245.71,62.63 L247.01,62.49 L248.32,62.36 L249.62,62.23 L250.93,62.10 L252.23,61.98 L253.53,61.85 L254.84,61.73 L256.14,61.60 L257.45,61.48 L258.75,61.36 L260.06,61.25 L261.36,61.13 L262.04,61.08 L262.66,61.02 L263.97,60.91 L265.27,60.80 L266.58,60.69 L267.88,60.59 L269.19,60.48 L270.49,60.38 L271.79,60.27 L273.10,60.17 L274.40,60.07 L275.71,59.97 L277.01,59.87 L278.32,59.78 L279.62,59.68 L280.92,59.59 L282.23,59.50 L283.53,59.40 L284.84,59.31 L286.14,59.22 L287.44,59.14" fill="none" stroke="#474747" stroke-width="1.55"/>
<path d="M27.90,289.60 L29.20,289.60 L30.51,289.60 L31.81,289.60 L33.12,289.60 L34.42,289.60 L34.55,289.60 L35.73,289.60 L37.03,289.60 L38.33,289.60 L39.64,289.60 L39.70,289.60 L40.94,289.60 L42.25,289.60 L43.55,289.60 L44.86,289.60 L46.16,289.60 L47.46,289.60 L48.77,289.60 L50.07,289.60 L51.38,289.60 L52.68,289.60 L52.70,289.60 L53.98,286.88 L55.29,280.25 L56.03,275.75 L56.59,272.04 L57.90,258.97 L58.45,250.27 L59.20,222.31 L59.66,200.96 L60.51,160.06 L60.87,150.27 L61.81,142.51 L63.11,136.51 L64.20,133.10 L64.42,132.38 L65.72,128.55 L67.03,125.33 L68.33,122.60 L69.64,120.25 L70.25,119.25 L70.94,118.17 L72.24,116.28 L73.55,114.58 L74.85,113.05 L76.16,111.67 L77.46,110.42 L77.81,110.10 L78.77,109.32 L80.07,108.39 L81.37,107.55 L82.68,106.75 L83.98,105.89 L85.29,104.91 L85.38,104.84 L86.59,103.76 L87.90,102.44 L89.20,101.00 L90.50,99.50 L91.81,97.97 L93.11,96.45 L94.42,95.00 L95.72,93.66 L97.03,92.47 L97.47,92.10 L98.33,91.43 L99.63,90.45 L100.94,89.50 L102.24,88.59 L103.55,87.71 L104.85,86.86 L106.15,86.05 L107.46,85.27 L108.76,84.52 L110.07,83.80 L111.37,83.10 L112.68,82.43 L113.98,81.79 L115.02,81.30 L115.28,81.17 L116.59,80.58 L117.89,80.00 L119.20,79.45 L120.50,78.91 L121.81,78.39 L123.11,77.89 L124.41,77.40 L125.72,76.93 L127.02,76.47 L128.33,76.03 L129.63,75.59 L130.94,75.17 L132.24,74.75 L132.56,74.65 L133.54,74.34 L134.85,73.95 L136.15,73.56 L137.46,73.18 L138.76,72.82 L140.07,72.46 L141.37,72.11 L142.67,71.76 L143.98,71.43 L145.28,71.10 L146.59,70.78 L147.89,70.46 L149.19,70.15 L150.11,69.94 L150.50,69.85 L151.80,69.55 L153.11,69.26 L154.41,68.97 L155.72,68.69 L157.02,68.42 L158.32,68.15 L159.63,67.88 L160.93,67.62 L162.24,67.36 L163.54,67.11 L164.85,66.86 L166.15,66.62 L167.45,66.37 L167.66,66.34 L168.76,66.14 L170.06,65.90 L171.37,65.68 L172.67,65.45 L173.98,65.23 L175.28,65.01 L176.58,64.80 L177.89,64.58 L179.19,64.37 L180.50,64.17 L181.80,63.96 L183.11,63.76 L184.41,63.55 L185.71,63.35 L187.02,63.15 L188.32,62.94 L189.63,62.74 L190.93,62.54 L192.24,62.33 L193.54,62.13 L194.84,61.92 L196.15,61.71 L197.45,61.50 L198.76,61.29 L200.02,61.08 L200.06,61.07 L201.36,60.85 L202.67,60.63 L203.97,60.40 L205.28,60.17 L206.58,59.94 L207.89,59.71 L209.19,59.48 L210.49,59.25 L211.80,59.02 L213.10,58.79 L214.41,58.56 L215.71,58.33 L217.02,58.10 L218.32,57.88 L219.62,57.65 L220.93,57.43 L222.23,57.21 L223.54,57.00 L224.84,56.79 L225.74,56.64 L226.15,56.58 L227.45,56.38 L228.75,56.18 L230.06,55.99 L231.36,55.80 L232.67,55.61 L233.97,55.43 L235.28,55.25 L236.58,55.07 L237.88,54.89 L239.19,54.72 L240.49,54.55 L241.80,54.37 L243.10,54.20 L244.40,54.02 L245.71,53.85 L247.01,53.67 L248.32,53.49 L249.62,53.31 L250.93,53.13 L252.23,52.94 L253.53,52.75 L254.84,52.55 L256.14,52.35 L257.45,52.15 L258.75,51.94 L260.06,51.72 L261.36,51.50 L262.04,51.38 L262.66,51.27 L263.97,51.03 L265.27,50.79 L266.58,50.54 L267.88,50.28 L269.19,50.02 L270.49,49.75 L271.79,49.48 L273.10,49.20 L274.40,48.91 L275.71,48.62 L277.01,48.33 L278.32,48.03 L279.62,47.73 L280.92,47.42 L282.23,47.11 L283.53,46.80 L284.84,46.48 L286.14,46.16 L287.44,45.84" fill="none" stroke="#474747" stroke-width="1.55"/>
<circle cx="27.90" cy="289.60" r="1.6" fill="#111"/>
<circle cx="52.70" cy="192.65" r="1.6" fill="#111"/>
<circle cx="85.38" cy="177.14" r="1.6" fill="#111"/>
<circle cx="287.44" cy="171.04" r="1.6" fill="#111"/>
<circle cx="34.55" cy="228.66" r="1.6" fill="#111"/>
<circle cx="40.30" cy="210.66" r="1.6" fill="#111"/>
<circle cx="27.90" cy="289.60" r="1.6" fill="#111"/>
<circle cx="52.70" cy="188.22" r="1.6" fill="#111"/>
<circle cx="85.38" cy="174.65" r="1.6" fill="#111"/>
<circle cx="287.44" cy="168.55" r="1.6" fill="#111"/>
<circle cx="27.90" cy="289.60" r="1.0" fill="#111"/>
<circle cx="52.70" cy="182.96" r="1.0" fill="#111"/>
<circle cx="85.38" cy="169.11" r="1.0" fill="#111"/>
<circle cx="287.44" cy="162.46" r="1.0" fill="#111"/>
<circle cx="27.90" cy="289.60" r="1.0" fill="#111"/>
<circle cx="52.70" cy="177.42" r="1.0" fill="#111"/>
<circle cx="85.38" cy="161.90" r="1.0" fill="#111"/>
<circle cx="287.44" cy="154.70" r="1.0" fill="#111"/>
<circle cx="34.55" cy="220.35" r="1.0" fill="#111"/>
<circle cx="40.30" cy="198.19" r="1.0" fill="#111"/>
<circle cx="27.90" cy="289.60" r="1.6" fill="#111"/>
<circle cx="52.70" cy="171.88" r="1.6" fill="#111"/>
<circle cx="85.38" cy="154.15" r="1.6" fill="#111"/>
<circle cx="287.44" cy="144.18" r="1.6" fill="#111"/>
<circle cx="27.90" cy="289.60" r="1.6" fill="#111"/>
<circle cx="52.70" cy="166.34" r="1.6" fill="#111"/>
<circle cx="85.38" cy="143.07" r="1.6" fill="#111"/>
<circle cx="287.44" cy="131.43" r="1.6" fill="#111"/>
<circle cx="27.90" cy="289.60" r="1.6" fill="#111"/>
<circle cx="52.70" cy="160.80" r="1.6" fill="#111"/>
<circle cx="85.38" cy="130.88" r="1.6" fill="#111"/>
<circle cx="287.44" cy="117.03" r="1.6" fill="#111"/>
<circle cx="34.55" cy="212.04" r="1.6" fill="#111"/>
<circle cx="40.30" cy="183.79" r="1.6" fill="#111"/>
<circle cx="27.90" cy="289.60" r="1.6" fill="#111"/>
<circle cx="52.70" cy="154.70" r="1.6" fill="#111"/>
<circle cx="85.38" cy="115.37" r="1.6" fill="#111"/>
<circle cx="287.44" cy="98.19" r="1.6" fill="#111"/>
<circle cx="27.90" cy="289.60" r="2.0" fill="#111"/>
<circle cx="34.55" cy="258.02" r="2.0" fill="#111"/>
<circle cx="40.30" cy="231.98" r="2.0" fill="#111"/>
<circle cx="52.70" cy="148.88" r="2.0" fill="#111"/>
<circle cx="85.38" cy="104.84" r="2.0" fill="#111"/>
<circle cx="287.44" cy="77.97" r="2.0" fill="#111"/>
<circle cx="27.90" cy="289.60" r="1.3" fill="#111"/>
<circle cx="34.55" cy="289.60" r="1.3" fill="#111"/>
<circle cx="39.70" cy="289.60" r="1.3" fill="#111"/>
<circle cx="52.70" cy="207.05" r="1.3" fill="#111"/>
<circle cx="85.38" cy="104.84" r="1.3" fill="#111"/>
<circle cx="287.44" cy="59.14" r="1.3" fill="#111"/>
<circle cx="27.90" cy="289.60" r="3.0" fill="#111"/>
<circle cx="34.55" cy="289.60" r="3.0" fill="#111"/>
<circle cx="39.70" cy="289.60" r="3.0" fill="#111"/>
<circle cx="52.70" cy="289.60" r="3.0" fill="#111"/>
<circle cx="85.38" cy="104.84" r="3.0" fill="#111"/>
<circle cx="287.44" cy="45.84" r="3.0" fill="#111"/>
<path d="M369.60,290.80 L370.21,284.06 L370.81,277.60 L371.42,271.44 L372.02,265.62 L372.63,260.18 L372.66,259.91 L373.23,255.05 L373.84,250.17 L374.44,245.53 L375.05,241.15 L375.65,237.02 L376.02,234.64 L376.26,233.13 L376.87,229.33 L377.47,225.69 L378.08,222.34 L378.68,219.42 L379.08,217.79 L379.29,217.03 L379.89,214.96 L380.50,213.10 L381.10,211.40 L381.71,209.84 L382.31,208.36 L382.92,206.92 L383.53,205.49 L383.67,205.16 L384.13,204.04 L384.74,202.59 L385.34,201.17 L385.95,199.78 L386.55,198.45 L387.16,197.19 L387.76,196.03 L388.37,194.97 L388.87,194.20 L388.97,194.05 L389.58,193.21 L390.19,192.43 L390.79,191.71 L391.40,191.02 L392.00,190.37 L392.61,189.76 L393.21,189.16 L393.82,188.58 L394.42,188.01 L395.03,187.44 L395.59,186.90 L395.63,186.86 L396.24,186.28 L396.85,185.70 L397.45,185.12 L398.06,184.54 L398.66,183.97 L399.27,183.40 L399.87,182.84 L400.48,182.30 L401.08,181.76 L401.69,181.25 L402.29,180.75 L402.90,180.27 L403.51,179.81 L404.11,179.38 L404.72,178.97 L405.32,178.59 L405.68,178.37 L405.93,178.23 L406.53,177.89 L407.14,177.55 L407.74,177.22 L408.35,176.90 L408.95,176.58 L409.56,176.27 L410.17,175.97 L410.77,175.68 L411.38,175.40 L411.98,175.12 L412.59,174.86 L413.19,174.62 L413.80,174.38 L414.40,174.16 L415.01,173.95 L415.61,173.75 L416.22,173.57 L416.83,173.40 L417.43,173.25 L417.92,173.14 L418.04,173.12 L418.64,172.99 L419.25,172.87 L419.85,172.76 L420.46,172.65 L421.06,172.54 L421.67,172.44 L422.27,172.34 L422.88,172.24 L423.49,172.15 L424.09,172.05 L424.70,171.97 L425.30,171.88 L425.91,171.80 L426.51,171.72 L427.12,171.65 L427.72,171.57 L428.33,171.50 L428.93,171.43 L429.54,171.36 L430.15,171.30 L430.75,171.23 L431.36,171.17 L431.96,171.10 L432.57,171.04 L433.17,170.98 L433.78,170.92 L434.38,170.86 L434.99,170.80 L435.59,170.74 L436.20,170.68 L436.81,170.62 L436.88,170.62 L437.41,170.57 L438.02,170.51 L438.62,170.45 L439.23,170.39 L439.83,170.34 L440.44,170.28 L441.04,170.23 L441.65,170.17 L442.25,170.12 L442.86,170.07 L443.47,170.01 L444.07,169.96 L444.68,169.91 L445.28,169.86 L445.89,169.81 L446.49,169.76 L447.10,169.72 L447.70,169.67 L448.31,169.62 L448.91,169.58 L449.52,169.53 L450.13,169.49 L450.73,169.44 L451.34,169.40 L451.94,169.35 L452.55,169.31 L453.15,169.27 L453.76,169.23 L454.36,169.19 L454.97,169.15 L455.57,169.11 L456.18,169.07 L456.79,169.03 L457.39,168.99 L458.00,168.96 L458.60,168.92 L459.21,168.89 L459.81,168.85 L460.42,168.82 L461.02,168.78 L461.34,168.76 L461.63,168.75 L462.23,168.72 L462.84,168.68 L463.45,168.65 L464.05,168.62 L464.66,168.58 L465.26,168.55 L465.87,168.52 L466.47,168.49 L467.08,168.46 L467.68,168.43 L468.29,168.39 L468.89,168.36 L469.50,168.33 L470.11,168.30 L470.71,168.27 L471.32,168.24 L471.92,168.21 L472.53,168.19 L473.13,168.16 L473.74,168.13 L474.34,168.10 L474.95,168.07 L475.55,168.05 L476.16,168.02 L476.77,167.99 L477.37,167.97 L477.98,167.94 L478.58,167.92 L479.19,167.89 L479.79,167.87 L480.40,167.84 L481.00,167.82 L481.61,167.80 L482.21,167.77 L482.82,167.75 L483.43,167.73 L484.03,167.71 L484.64,167.69 L485.24,167.67 L485.85,167.65 L486.45,167.63 L487.06,167.61 L487.66,167.59 L488.27,167.58 L488.87,167.56 L489.48,167.54 L490.09,167.53" fill="none" stroke="#5b8fd6" stroke-width="1.45"/>
<path d="M369.60,290.80 L370.88,276.17 L372.16,262.99 L372.66,258.37 L373.44,251.42 L374.73,240.99 L376.01,231.92 L376.02,231.83 L377.29,223.97 L378.57,217.19 L379.08,214.98 L379.85,212.04 L381.13,207.78 L382.42,204.12 L383.67,200.94 L383.70,200.87 L384.98,197.84 L386.26,195.05 L387.54,192.59 L388.82,190.56 L388.87,190.50 L390.11,188.90 L391.39,187.45 L392.67,186.17 L393.95,184.99 L395.23,183.85 L395.59,183.53 L396.51,182.72 L397.80,181.60 L399.08,180.51 L400.36,179.46 L401.64,178.47 L402.92,177.55 L404.20,176.71 L405.48,175.98 L405.68,175.87 L406.77,175.32 L408.05,174.70 L409.33,174.10 L410.61,173.53 L411.89,173.00 L413.17,172.52 L414.46,172.08 L415.74,171.70 L417.02,171.37 L417.92,171.18 L418.30,171.10 L419.58,170.87 L420.86,170.64 L422.15,170.44 L423.43,170.25 L424.71,170.07 L425.99,169.90 L427.27,169.75 L428.55,169.60 L429.83,169.46 L431.12,169.33 L432.40,169.20 L433.68,169.08 L434.96,168.96 L436.24,168.84 L436.88,168.78 L437.52,168.72 L438.81,168.60 L440.09,168.49 L441.37,168.38 L442.65,168.27 L443.93,168.17 L445.21,168.07 L446.50,167.97 L447.78,167.87 L449.06,167.78 L450.34,167.69 L451.62,167.60 L452.90,167.51 L454.19,167.43 L455.47,167.35 L456.75,167.27 L458.03,167.20 L459.31,167.13 L460.59,167.06 L461.34,167.02 L461.87,166.99 L463.16,166.92 L464.44,166.86 L465.72,166.79 L467.00,166.73 L468.28,166.66 L469.56,166.60 L470.85,166.54 L472.13,166.48 L473.41,166.42 L474.69,166.36 L475.97,166.30 L477.25,166.25 L478.54,166.20 L479.82,166.15 L481.10,166.10 L482.38,166.05 L483.66,166.01 L484.94,165.97 L486.23,165.94 L487.51,165.90 L488.79,165.87 L490.07,165.84 L490.09,165.84 L491.35,165.82 L492.63,165.80 L493.91,165.77 L495.20,165.75 L496.48,165.73 L497.76,165.71 L499.04,165.69 L500.32,165.68 L501.60,165.66 L502.89,165.64 L504.17,165.63 L505.45,165.61 L506.73,165.60 L508.01,165.58 L509.29,165.57 L510.58,165.55 L511.86,165.54 L513.14,165.53 L514.42,165.51 L515.70,165.50 L516.98,165.48 L518.26,165.47 L519.55,165.46 L520.83,165.44 L522.11,165.43 L522.50,165.42 L523.39,165.41 L524.67,165.40 L525.95,165.38 L527.24,165.37 L528.52,165.35 L529.80,165.34 L531.08,165.32 L532.36,165.31 L533.64,165.30 L534.93,165.28 L536.21,165.27 L537.49,165.25 L538.77,165.24 L540.05,165.23 L541.33,165.21 L542.62,165.20 L543.90,165.19 L545.18,165.17 L546.46,165.16 L547.74,165.15 L549.02,165.13 L550.30,165.12 L551.59,165.11 L552.87,165.09 L554.15,165.08 L555.43,165.07 L556.71,165.05 L557.67,165.04 L557.99,165.04 L559.28,165.03 L560.56,165.01 L561.84,165.00 L563.12,164.99 L564.40,164.97 L565.68,164.96 L566.97,164.95 L568.25,164.93 L569.53,164.92 L570.81,164.91 L572.09,164.89 L573.37,164.88 L574.66,164.87 L575.94,164.85 L577.22,164.84 L578.50,164.83 L579.78,164.82 L581.06,164.80 L582.34,164.79 L583.63,164.78 L584.91,164.77 L586.19,164.75 L587.47,164.74 L588.75,164.73 L589.78,164.72 L590.03,164.72 L591.32,164.71 L592.60,164.70 L593.88,164.68 L595.16,164.67 L596.44,164.66 L597.72,164.65 L599.01,164.64 L600.29,164.63 L601.57,164.62 L602.85,164.61 L604.13,164.60 L605.41,164.59 L606.69,164.58 L607.98,164.57 L609.26,164.56 L610.54,164.55 L611.82,164.54 L613.10,164.53 L614.38,164.52 L615.67,164.51 L616.95,164.50 L618.23,164.49 L619.51,164.48 L620.79,164.47 L622.07,164.46 L623.36,164.45 L624.64,164.44" fill="none" stroke="#474747" stroke-width="1.45"/>
<path d="M369.60,290.80 L370.88,275.82 L372.16,262.33 L372.66,257.60 L373.44,250.49 L374.73,239.86 L376.01,230.52 L376.02,230.43 L377.29,222.27 L378.57,215.13 L379.08,212.74 L379.85,209.49 L381.13,204.73 L382.42,200.53 L383.67,196.73 L383.70,196.64 L384.98,192.84 L386.26,189.23 L387.54,185.99 L388.82,183.33 L388.87,183.25 L390.11,181.12 L391.39,179.12 L392.67,177.34 L393.95,175.81 L395.23,174.56 L395.59,174.27 L396.51,173.57 L397.80,172.69 L399.08,171.89 L400.36,171.18 L401.64,170.54 L402.92,169.96 L404.20,169.43 L405.48,168.94 L405.68,168.87 L406.77,168.48 L408.05,168.03 L409.33,167.59 L410.61,167.18 L411.89,166.79 L413.17,166.44 L414.46,166.14 L415.74,165.88 L417.02,165.67 L417.92,165.56 L418.30,165.52 L419.58,165.40 L420.86,165.29 L422.15,165.19 L423.43,165.10 L424.71,165.01 L425.99,164.93 L427.27,164.86 L428.55,164.80 L429.83,164.73 L431.12,164.67 L432.40,164.62 L433.68,164.56 L434.96,164.51 L436.24,164.45 L436.88,164.43 L437.52,164.40 L438.81,164.34 L440.09,164.29 L441.37,164.24 L442.65,164.19 L443.93,164.14 L445.21,164.09 L446.50,164.04 L447.78,164.00 L449.06,163.95 L450.34,163.91 L451.62,163.87 L452.90,163.83 L454.19,163.79 L455.47,163.75 L456.75,163.71 L458.03,163.68 L459.31,163.64 L460.59,163.61 L461.34,163.59 L461.87,163.58 L463.16,163.55 L464.44,163.52 L465.72,163.49 L467.00,163.46 L468.28,163.44 L469.56,163.41 L470.85,163.39 L472.13,163.36 L473.41,163.34 L474.69,163.32 L475.97,163.30 L477.25,163.27 L478.54,163.25 L479.82,163.23 L481.10,163.21 L482.38,163.18 L483.66,163.16 L484.94,163.14 L486.23,163.11 L487.51,163.09 L488.79,163.06 L490.07,163.04 L490.09,163.04 L491.35,163.01 L492.63,162.98 L493.91,162.95 L495.20,162.92 L496.48,162.89 L497.76,162.86 L499.04,162.83 L500.32,162.80 L501.60,162.77 L502.89,162.74 L504.17,162.71 L505.45,162.68 L506.73,162.65 L508.01,162.62 L509.29,162.58 L510.58,162.55 L511.86,162.52 L513.14,162.49 L514.42,162.46 L515.70,162.43 L516.98,162.40 L518.26,162.37 L519.55,162.34 L520.83,162.31 L522.11,162.29 L522.50,162.28 L523.39,162.26 L524.67,162.23 L525.95,162.21 L527.24,162.18 L528.52,162.15 L529.80,162.13 L531.08,162.10 L532.36,162.08 L533.64,162.05 L534.93,162.03 L536.21,162.00 L537.49,161.98 L538.77,161.95 L540.05,161.93 L541.33,161.90 L542.62,161.88 L543.90,161.85 L545.18,161.83 L546.46,161.80 L547.74,161.78 L549.02,161.76 L550.30,161.73 L551.59,161.71 L552.87,161.69 L554.15,161.66 L555.43,161.64 L556.71,161.61 L557.67,161.60 L557.99,161.59 L559.28,161.57 L560.56,161.54 L561.84,161.52 L563.12,161.49 L564.40,161.47 L565.68,161.44 L566.97,161.42 L568.25,161.40 L569.53,161.37 L570.81,161.35 L572.09,161.32 L573.37,161.30 L574.66,161.28 L575.94,161.25 L577.22,161.23 L578.50,161.21 L579.78,161.18 L581.06,161.16 L582.34,161.14 L583.63,161.12 L584.91,161.10 L586.19,161.07 L587.47,161.05 L588.75,161.03 L589.78,161.01 L590.03,161.01 L591.32,160.99 L592.60,160.97 L593.88,160.95 L595.16,160.93 L596.44,160.91 L597.72,160.89 L599.01,160.87 L600.29,160.85 L601.57,160.83 L602.85,160.81 L604.13,160.79 L605.41,160.77 L606.69,160.75 L607.98,160.74 L609.26,160.72 L610.54,160.70 L611.82,160.68 L613.10,160.66 L614.38,160.64 L615.67,160.63 L616.95,160.61 L618.23,160.59 L619.51,160.58 L620.79,160.56 L622.07,160.54 L623.36,160.53 L624.64,160.51" fill="none" stroke="#474747" stroke-width="1.45"/>
<path d="M369.60,290.80 L370.88,275.12 L372.16,261.01 L372.66,256.05 L373.44,248.64 L374.73,237.58 L376.01,227.72 L376.02,227.62 L377.29,218.72 L378.57,210.86 L379.08,208.24 L379.85,204.76 L381.13,199.74 L382.42,195.29 L383.67,191.12 L383.70,191.01 L384.98,186.62 L386.26,182.31 L387.54,178.40 L388.82,175.20 L388.87,175.11 L390.11,172.59 L391.39,170.23 L392.67,168.13 L393.95,166.32 L395.23,164.81 L395.59,164.44 L396.51,163.56 L397.80,162.44 L399.08,161.42 L400.36,160.49 L401.64,159.66 L402.92,158.90 L404.20,158.20 L405.48,157.57 L405.68,157.48 L406.77,156.97 L408.05,156.40 L409.33,155.84 L410.61,155.32 L411.89,154.83 L413.17,154.38 L414.46,153.98 L415.74,153.64 L417.02,153.36 L417.92,153.21 L418.30,153.15 L419.58,152.97 L420.86,152.80 L422.15,152.64 L423.43,152.50 L424.71,152.37 L425.99,152.25 L427.27,152.13 L428.55,152.03 L429.83,151.93 L431.12,151.83 L432.40,151.74 L433.68,151.66 L434.96,151.57 L436.24,151.48 L436.88,151.44 L437.52,151.39 L438.81,151.31 L440.09,151.23 L441.37,151.14 L442.65,151.07 L443.93,150.99 L445.21,150.91 L446.50,150.84 L447.78,150.77 L449.06,150.70 L450.34,150.64 L451.62,150.57 L452.90,150.51 L454.19,150.45 L455.47,150.39 L456.75,150.33 L458.03,150.28 L459.31,150.22 L460.59,150.17 L461.34,150.14 L461.87,150.12 L463.16,150.07 L464.44,150.03 L465.72,149.99 L467.00,149.94 L468.28,149.91 L469.56,149.87 L470.85,149.83 L472.13,149.80 L473.41,149.76 L474.69,149.73 L475.97,149.69 L477.25,149.66 L478.54,149.62 L479.82,149.59 L481.10,149.55 L482.38,149.52 L483.66,149.48 L484.94,149.44 L486.23,149.41 L487.51,149.36 L488.79,149.32 L490.07,149.28 L490.09,149.28 L491.35,149.23 L492.63,149.18 L493.91,149.13 L495.20,149.08 L496.48,149.03 L497.76,148.97 L499.04,148.91 L500.32,148.86 L501.60,148.80 L502.89,148.74 L504.17,148.68 L505.45,148.62 L506.73,148.56 L508.01,148.50 L509.29,148.44 L510.58,148.38 L511.86,148.32 L513.14,148.26 L514.42,148.20 L515.70,148.14 L516.98,148.08 L518.26,148.02 L519.55,147.97 L520.83,147.91 L522.11,147.86 L522.50,147.84 L523.39,147.81 L524.67,147.76 L525.95,147.71 L527.24,147.66 L528.52,147.61 L529.80,147.56 L531.08,147.51 L532.36,147.46 L533.64,147.42 L534.93,147.37 L536.21,147.32 L537.49,147.27 L538.77,147.23 L540.05,147.18 L541.33,147.13 L542.62,147.09 L543.90,147.04 L545.18,147.00 L546.46,146.95 L547.74,146.91 L549.02,146.86 L550.30,146.82 L551.59,146.77 L552.87,146.73 L554.15,146.68 L555.43,146.63 L556.71,146.59 L557.67,146.56 L557.99,146.54 L559.28,146.50 L560.56,146.45 L561.84,146.41 L563.12,146.36 L564.40,146.32 L565.68,146.27 L566.97,146.23 L568.25,146.18 L569.53,146.13 L570.81,146.09 L572.09,146.04 L573.37,146.00 L574.66,145.95 L575.94,145.91 L577.22,145.87 L578.50,145.82 L579.78,145.78 L581.06,145.74 L582.34,145.69 L583.63,145.65 L584.91,145.61 L586.19,145.57 L587.47,145.53 L588.75,145.49 L589.78,145.46 L590.03,145.45 L591.32,145.41 L592.60,145.37 L593.88,145.33 L595.16,145.30 L596.44,145.26 L597.72,145.22 L599.01,145.18 L600.29,145.15 L601.57,145.11 L602.85,145.07 L604.13,145.04 L605.41,145.00 L606.69,144.97 L607.98,144.93 L609.26,144.90 L610.54,144.86 L611.82,144.83 L613.10,144.79 L614.38,144.76 L615.67,144.73 L616.95,144.69 L618.23,144.66 L619.51,144.63 L620.79,144.60 L622.07,144.57 L623.36,144.53 L624.64,144.50" fill="none" stroke="#474747" stroke-width="1.45"/>
<path d="M369.60,290.80 L370.88,274.78 L372.16,260.35 L372.66,255.28 L373.44,247.72 L374.73,236.44 L376.01,226.32 L376.02,226.22 L377.29,216.95 L378.57,208.72 L379.08,206.00 L379.85,202.38 L381.13,197.15 L382.42,192.55 L383.67,188.31 L383.70,188.20 L384.98,183.84 L386.26,179.64 L387.54,175.84 L388.82,172.73 L388.87,172.64 L390.11,170.23 L391.39,168.05 L392.67,166.10 L393.95,164.33 L395.23,162.66 L395.59,162.19 L396.51,161.02 L397.80,159.42 L399.08,157.88 L400.36,156.41 L401.64,155.02 L402.92,153.74 L404.20,152.57 L405.48,151.55 L405.68,151.40 L406.77,150.62 L408.05,149.74 L409.33,148.89 L410.61,148.09 L411.89,147.35 L413.17,146.66 L414.46,146.05 L415.74,145.51 L417.02,145.05 L417.92,144.78 L418.30,144.68 L419.58,144.35 L420.86,144.05 L422.15,143.76 L423.43,143.50 L424.71,143.26 L425.99,143.03 L427.27,142.82 L428.55,142.62 L429.83,142.43 L431.12,142.25 L432.40,142.07 L433.68,141.91 L434.96,141.74 L436.24,141.58 L436.88,141.50 L437.52,141.42 L438.81,141.26 L440.09,141.10 L441.37,140.95 L442.65,140.81 L443.93,140.66 L445.21,140.52 L446.50,140.39 L447.78,140.26 L449.06,140.13 L450.34,140.01 L451.62,139.89 L452.90,139.77 L454.19,139.66 L455.47,139.55 L456.75,139.44 L458.03,139.34 L459.31,139.24 L460.59,139.14 L461.34,139.09 L461.87,139.05 L463.16,138.96 L464.44,138.88 L465.72,138.80 L467.00,138.72 L468.28,138.65 L469.56,138.58 L470.85,138.51 L472.13,138.44 L473.41,138.37 L474.69,138.31 L475.97,138.24 L477.25,138.18 L478.54,138.11 L479.82,138.05 L481.10,137.98 L482.38,137.92 L483.66,137.85 L484.94,137.78 L486.23,137.71 L487.51,137.64 L488.79,137.56 L490.07,137.48 L490.09,137.48 L491.35,137.40 L492.63,137.32 L493.91,137.23 L495.20,137.14 L496.48,137.05 L497.76,136.96 L499.04,136.87 L500.32,136.77 L501.60,136.67 L502.89,136.58 L504.17,136.48 L505.45,136.38 L506.73,136.28 L508.01,136.18 L509.29,136.09 L510.58,135.99 L511.86,135.89 L513.14,135.79 L514.42,135.70 L515.70,135.60 L516.98,135.51 L518.26,135.42 L519.55,135.33 L520.83,135.24 L522.11,135.15 L522.50,135.12 L523.39,135.07 L524.67,134.98 L525.95,134.90 L527.24,134.82 L528.52,134.74 L529.80,134.66 L531.08,134.58 L532.36,134.50 L533.64,134.42 L534.93,134.34 L536.21,134.26 L537.49,134.18 L538.77,134.11 L540.05,134.03 L541.33,133.95 L542.62,133.88 L543.90,133.80 L545.18,133.73 L546.46,133.65 L547.74,133.58 L549.02,133.50 L550.30,133.43 L551.59,133.35 L552.87,133.28 L554.15,133.21 L555.43,133.13 L556.71,133.06 L557.67,133.00 L557.99,132.98 L559.28,132.91 L560.56,132.83 L561.84,132.76 L563.12,132.68 L564.40,132.61 L565.68,132.53 L566.97,132.46 L568.25,132.38 L569.53,132.31 L570.81,132.23 L572.09,132.16 L573.37,132.09 L574.66,132.01 L575.94,131.94 L577.22,131.87 L578.50,131.79 L579.78,131.72 L581.06,131.65 L582.34,131.58 L583.63,131.51 L584.91,131.44 L586.19,131.38 L587.47,131.31 L588.75,131.24 L589.78,131.19 L590.03,131.18 L591.32,131.12 L592.60,131.05 L593.88,130.99 L595.16,130.93 L596.44,130.86 L597.72,130.80 L599.01,130.74 L600.29,130.68 L601.57,130.62 L602.85,130.56 L604.13,130.50 L605.41,130.44 L606.69,130.38 L607.98,130.32 L609.26,130.27 L610.54,130.21 L611.82,130.15 L613.10,130.10 L614.38,130.04 L615.67,129.99 L616.95,129.93 L618.23,129.88 L619.51,129.83 L620.79,129.77 L622.07,129.72 L623.36,129.67 L624.64,129.62" fill="none" stroke="#474747" stroke-width="1.45"/>
<path d="M369.60,290.80 L370.88,274.43 L372.16,259.68 L372.66,254.51 L373.44,246.80 L374.73,235.30 L376.01,224.92 L376.02,224.81 L377.29,215.18 L378.57,206.58 L379.08,203.75 L379.85,200.01 L381.13,194.64 L382.42,189.91 L383.67,185.50 L383.70,185.39 L384.98,180.78 L386.26,176.30 L387.54,172.24 L388.82,168.91 L388.87,168.82 L390.11,166.29 L391.39,164.02 L392.67,162.01 L393.95,160.12 L395.23,158.25 L395.59,157.70 L396.51,156.28 L397.80,154.29 L399.08,152.29 L400.36,150.34 L401.64,148.48 L402.92,146.74 L404.20,145.16 L405.48,143.79 L405.68,143.60 L406.77,142.59 L408.05,141.46 L409.33,140.38 L410.61,139.37 L411.89,138.42 L413.17,137.55 L414.46,136.75 L415.74,136.02 L417.02,135.37 L417.92,134.96 L418.30,134.79 L419.58,134.26 L420.86,133.76 L422.15,133.29 L423.43,132.84 L424.71,132.42 L425.99,132.02 L427.27,131.64 L428.55,131.28 L429.83,130.94 L431.12,130.61 L432.40,130.30 L433.68,129.99 L434.96,129.70 L436.24,129.41 L436.88,129.27 L437.52,129.13 L438.81,128.85 L440.09,128.59 L441.37,128.32 L442.65,128.07 L443.93,127.82 L445.21,127.58 L446.50,127.35 L447.78,127.12 L449.06,126.90 L450.34,126.69 L451.62,126.48 L452.90,126.28 L454.19,126.08 L455.47,125.89 L456.75,125.71 L458.03,125.53 L459.31,125.36 L460.59,125.19 L461.34,125.10 L461.87,125.03 L463.16,124.88 L464.44,124.73 L465.72,124.59 L467.00,124.46 L468.28,124.32 L469.56,124.20 L470.85,124.07 L472.13,123.95 L473.41,123.83 L474.69,123.72 L475.97,123.60 L477.25,123.49 L478.54,123.38 L479.82,123.27 L481.10,123.16 L482.38,123.04 L483.66,122.93 L484.94,122.81 L486.23,122.69 L487.51,122.57 L488.79,122.45 L490.07,122.32 L490.09,122.32 L491.35,122.19 L492.63,122.06 L493.91,121.92 L495.20,121.79 L496.48,121.65 L497.76,121.51 L499.04,121.37 L500.32,121.23 L501.60,121.09 L502.89,120.95 L504.17,120.81 L505.45,120.67 L506.73,120.53 L508.01,120.39 L509.29,120.24 L510.58,120.10 L511.86,119.97 L513.14,119.83 L514.42,119.69 L515.70,119.55 L516.98,119.42 L518.26,119.29 L519.55,119.16 L520.83,119.03 L522.11,118.90 L522.50,118.87 L523.39,118.78 L524.67,118.66 L525.95,118.54 L527.24,118.42 L528.52,118.30 L529.80,118.18 L531.08,118.06 L532.36,117.95 L533.64,117.83 L534.93,117.72 L536.21,117.60 L537.49,117.49 L538.77,117.38 L540.05,117.26 L541.33,117.15 L542.62,117.04 L543.90,116.93 L545.18,116.82 L546.46,116.71 L547.74,116.60 L549.02,116.49 L550.30,116.38 L551.59,116.27 L552.87,116.17 L554.15,116.06 L555.43,115.95 L556.71,115.84 L557.67,115.76 L557.99,115.73 L559.28,115.62 L560.56,115.51 L561.84,115.40 L563.12,115.29 L564.40,115.18 L565.68,115.07 L566.97,114.96 L568.25,114.85 L569.53,114.74 L570.81,114.63 L572.09,114.52 L573.37,114.42 L574.66,114.31 L575.94,114.20 L577.22,114.10 L578.50,113.99 L579.78,113.89 L581.06,113.78 L582.34,113.68 L583.63,113.58 L584.91,113.48 L586.19,113.38 L587.47,113.28 L588.75,113.19 L589.78,113.11 L590.03,113.09 L591.32,113.00 L592.60,112.90 L593.88,112.81 L595.16,112.72 L596.44,112.63 L597.72,112.54 L599.01,112.45 L600.29,112.36 L601.57,112.27 L602.85,112.18 L604.13,112.10 L605.41,112.01 L606.69,111.92 L607.98,111.84 L609.26,111.75 L610.54,111.67 L611.82,111.59 L613.10,111.51 L614.38,111.42 L615.67,111.34 L616.95,111.27 L618.23,111.19 L619.51,111.11 L620.79,111.03 L622.07,110.96 L623.36,110.88 L624.64,110.81" fill="none" stroke="#474747" stroke-width="1.45"/>
<path d="M369.60,290.80 L370.88,274.08 L372.16,259.02 L372.66,253.73 L373.44,245.87 L374.73,234.16 L376.01,223.52 L376.02,223.41 L377.29,213.41 L378.57,204.44 L379.08,201.51 L379.85,197.64 L381.13,192.08 L382.42,187.21 L383.67,182.69 L383.70,182.58 L384.98,177.90 L386.26,173.38 L387.54,169.29 L388.82,165.94 L388.87,165.84 L390.11,163.31 L391.39,161.10 L392.67,159.12 L393.95,157.21 L395.23,155.22 L395.59,154.61 L396.51,153.00 L397.80,150.62 L399.08,148.16 L400.36,145.70 L401.64,143.30 L402.92,141.05 L404.20,139.01 L405.48,137.27 L405.68,137.03 L406.77,135.78 L408.05,134.38 L409.33,133.07 L410.61,131.83 L411.89,130.68 L413.17,129.60 L414.46,128.60 L415.74,127.67 L417.02,126.81 L417.92,126.25 L418.30,126.02 L419.58,125.27 L420.86,124.55 L422.15,123.87 L423.43,123.21 L424.71,122.58 L425.99,121.98 L427.27,121.41 L428.55,120.86 L429.83,120.33 L431.12,119.83 L432.40,119.34 L433.68,118.88 L434.96,118.43 L436.24,117.99 L436.88,117.79 L437.52,117.57 L438.81,117.17 L440.09,116.77 L441.37,116.38 L442.65,116.00 L443.93,115.63 L445.21,115.27 L446.50,114.93 L447.78,114.59 L449.06,114.26 L450.34,113.94 L451.62,113.63 L452.90,113.33 L454.19,113.04 L455.47,112.76 L456.75,112.48 L458.03,112.22 L459.31,111.96 L460.59,111.72 L461.34,111.58 L461.87,111.48 L463.16,111.25 L464.44,111.03 L465.72,110.82 L467.00,110.61 L468.28,110.41 L469.56,110.22 L470.85,110.03 L472.13,109.85 L473.41,109.67 L474.69,109.50 L475.97,109.32 L477.25,109.15 L478.54,108.98 L479.82,108.82 L481.10,108.65 L482.38,108.48 L483.66,108.31 L484.94,108.15 L486.23,107.97 L487.51,107.80 L488.79,107.62 L490.07,107.44 L490.09,107.44 L491.35,107.26 L492.63,107.07 L493.91,106.88 L495.20,106.70 L496.48,106.51 L497.76,106.32 L499.04,106.13 L500.32,105.94 L501.60,105.75 L502.89,105.57 L504.17,105.38 L505.45,105.19 L506.73,105.00 L508.01,104.82 L509.29,104.63 L510.58,104.44 L511.86,104.26 L513.14,104.08 L514.42,103.90 L515.70,103.72 L516.98,103.54 L518.26,103.37 L519.55,103.19 L520.83,103.02 L522.11,102.86 L522.50,102.80 L523.39,102.69 L524.67,102.52 L525.95,102.36 L527.24,102.20 L528.52,102.04 L529.80,101.88 L531.08,101.73 L532.36,101.57 L533.64,101.41 L534.93,101.26 L536.21,101.11 L537.49,100.96 L538.77,100.81 L540.05,100.66 L541.33,100.51 L542.62,100.36 L543.90,100.21 L545.18,100.06 L546.46,99.91 L547.74,99.77 L549.02,99.62 L550.30,99.47 L551.59,99.33 L552.87,99.18 L554.15,99.04 L555.43,98.89 L556.71,98.74 L557.67,98.63 L557.99,98.60 L559.28,98.45 L560.56,98.30 L561.84,98.16 L563.12,98.01 L564.40,97.86 L565.68,97.71 L566.97,97.57 L568.25,97.42 L569.53,97.27 L570.81,97.12 L572.09,96.98 L573.37,96.83 L574.66,96.69 L575.94,96.55 L577.22,96.40 L578.50,96.26 L579.78,96.12 L581.06,95.98 L582.34,95.85 L583.63,95.71 L584.91,95.58 L586.19,95.44 L587.47,95.31 L588.75,95.18 L589.78,95.08 L590.03,95.06 L591.32,94.93 L592.60,94.81 L593.88,94.68 L595.16,94.56 L596.44,94.44 L597.72,94.32 L599.01,94.19 L600.29,94.07 L601.57,93.96 L602.85,93.84 L604.13,93.72 L605.41,93.61 L606.69,93.49 L607.98,93.38 L609.26,93.26 L610.54,93.15 L611.82,93.04 L613.10,92.93 L614.38,92.82 L615.67,92.71 L616.95,92.61 L618.23,92.50 L619.51,92.40 L620.79,92.30 L622.07,92.19 L623.36,92.09 L624.64,91.99" fill="none" stroke="#474747" stroke-width="1.45"/>
<path d="M369.60,290.80 L370.88,273.73 L372.16,258.36 L372.66,252.96 L373.44,244.95 L374.73,233.02 L376.01,222.12 L376.02,222.00 L377.29,211.64 L378.57,202.30 L379.08,199.26 L379.85,195.29 L381.13,189.66 L382.42,184.68 L383.67,179.88 L383.70,179.76 L384.98,174.53 L386.26,169.31 L387.54,164.53 L388.82,160.62 L388.87,160.51 L390.11,157.63 L391.39,155.14 L392.67,152.91 L393.95,150.72 L395.23,148.33 L395.59,147.59 L396.51,145.56 L397.80,142.45 L399.08,139.15 L400.36,135.77 L401.64,132.45 L402.92,129.31 L404.20,126.47 L405.48,124.07 L405.68,123.74 L406.77,122.06 L408.05,120.20 L409.33,118.48 L410.61,116.86 L411.89,115.35 L413.17,113.92 L414.46,112.57 L415.74,111.26 L417.02,109.99 L417.92,109.12 L418.30,108.75 L419.58,107.53 L420.86,106.34 L422.15,105.17 L423.43,104.03 L424.71,102.92 L425.99,101.84 L427.27,100.79 L428.55,99.77 L429.83,98.79 L431.12,97.85 L432.40,96.94 L433.68,96.08 L434.96,95.25 L436.24,94.46 L436.88,94.09 L437.52,93.71 L438.81,92.98 L440.09,92.28 L441.37,91.59 L442.65,90.91 L443.93,90.26 L445.21,89.62 L446.50,89.01 L447.78,88.41 L449.06,87.82 L450.34,87.25 L451.62,86.70 L452.90,86.17 L454.19,85.65 L455.47,85.15 L456.75,84.67 L458.03,84.20 L459.31,83.74 L460.59,83.31 L461.34,83.06 L461.87,82.88 L463.16,82.48 L464.44,82.09 L465.72,81.71 L467.00,81.34 L468.28,80.99 L469.56,80.64 L470.85,80.31 L472.13,79.98 L473.41,79.67 L474.69,79.35 L475.97,79.05 L477.25,78.74 L478.54,78.45 L479.82,78.15 L481.10,77.85 L482.38,77.55 L483.66,77.26 L484.94,76.96 L486.23,76.65 L487.51,76.34 L488.79,76.03 L490.07,75.71 L490.09,75.71 L491.35,75.39 L492.63,75.06 L493.91,74.73 L495.20,74.41 L496.48,74.08 L497.76,73.75 L499.04,73.42 L500.32,73.09 L501.60,72.76 L502.89,72.43 L504.17,72.10 L505.45,71.77 L506.73,71.45 L508.01,71.12 L509.29,70.80 L510.58,70.48 L511.86,70.16 L513.14,69.84 L514.42,69.53 L515.70,69.22 L516.98,68.91 L518.26,68.60 L519.55,68.30 L520.83,68.00 L522.11,67.71 L522.50,67.62 L523.39,67.42 L524.67,67.13 L525.95,66.85 L527.24,66.57 L528.52,66.29 L529.80,66.01 L531.08,65.74 L532.36,65.46 L533.64,65.19 L534.93,64.93 L536.21,64.66 L537.49,64.39 L538.77,64.13 L540.05,63.87 L541.33,63.61 L542.62,63.35 L543.90,63.09 L545.18,62.83 L546.46,62.58 L547.74,62.32 L549.02,62.06 L550.30,61.81 L551.59,61.55 L552.87,61.30 L554.15,61.04 L555.43,60.79 L556.71,60.53 L557.67,60.34 L557.99,60.28 L559.28,60.02 L560.56,59.76 L561.84,59.51 L563.12,59.25 L564.40,58.99 L565.68,58.73 L566.97,58.48 L568.25,58.22 L569.53,57.96 L570.81,57.71 L572.09,57.45 L573.37,57.20 L574.66,56.95 L575.94,56.70 L577.22,56.45 L578.50,56.20 L579.78,55.96 L581.06,55.72 L582.34,55.48 L583.63,55.24 L584.91,55.00 L586.19,54.77 L587.47,54.54 L588.75,54.32 L589.78,54.14 L590.03,54.10 L591.32,53.88 L592.60,53.66 L593.88,53.44 L595.16,53.23 L596.44,53.01 L597.72,52.80 L599.01,52.59 L600.29,52.38 L601.57,52.18 L602.85,51.97 L604.13,51.77 L605.41,51.56 L606.69,51.36 L607.98,51.16 L609.26,50.97 L610.54,50.77 L611.82,50.58 L613.10,50.39 L614.38,50.20 L615.67,50.01 L616.95,49.82 L618.23,49.64 L619.51,49.46 L620.79,49.28 L622.07,49.10 L623.36,48.92 L624.64,48.75" fill="none" stroke="#474747" stroke-width="1.45"/>
<path d="M369.60,290.80 L370.21,288.71 L370.81,286.55 L371.42,284.33 L372.02,282.04 L372.63,279.69 L372.66,279.57 L373.23,277.38 L373.84,275.13 L374.44,272.79 L375.05,270.23 L375.65,267.28 L376.02,265.25 L376.26,263.78 L376.87,259.40 L377.47,254.19 L378.08,248.30 L378.68,241.89 L379.08,237.45 L379.29,234.92 L379.89,225.75 L380.50,214.77 L381.10,203.04 L381.71,191.63 L382.31,181.60 L382.92,174.00 L383.36,170.62 L383.53,169.77 L384.13,166.97 L384.74,164.60 L385.34,162.59 L385.95,160.84 L386.55,159.30 L387.16,157.88 L387.76,156.50 L388.37,155.08 L388.56,154.61 L388.97,153.60 L389.58,152.16 L390.19,150.78 L390.79,149.45 L391.40,148.17 L392.00,146.93 L392.61,145.73 L393.21,144.58 L393.82,143.45 L394.42,142.36 L395.03,141.30 L395.29,140.85 L395.63,140.26 L396.24,139.24 L396.85,138.24 L397.45,137.25 L398.06,136.29 L398.66,135.34 L399.27,134.42 L399.87,133.52 L400.48,132.64 L401.08,131.78 L401.69,130.94 L402.29,130.13 L402.90,129.35 L403.51,128.59 L404.11,127.86 L404.72,127.15 L404.77,127.09 L405.32,126.47 L405.93,125.79 L406.53,125.14 L407.14,124.49 L407.74,123.85 L408.35,123.23 L408.95,122.62 L409.56,122.02 L410.17,121.43 L410.77,120.86 L411.38,120.30 L411.98,119.75 L412.59,119.21 L413.19,118.69 L413.80,118.18 L414.40,117.68 L415.01,117.19 L415.61,116.71 L416.22,116.25 L416.83,115.80 L417.43,115.36 L417.92,115.02 L418.04,114.94 L418.64,114.52 L419.25,114.11 L419.85,113.70 L420.46,113.31 L421.06,112.92 L421.67,112.53 L422.27,112.15 L422.88,111.78 L423.49,111.41 L424.09,111.05 L424.70,110.70 L425.30,110.35 L425.91,110.01 L426.51,109.67 L427.12,109.34 L427.72,109.01 L428.33,108.69 L428.93,108.37 L429.54,108.06 L430.15,107.75 L430.75,107.45 L431.36,107.15 L431.96,106.86 L432.57,106.57 L433.17,106.28 L433.78,106.00 L434.38,105.73 L434.99,105.45 L435.59,105.19 L436.20,104.92 L436.81,104.66 L436.88,104.63 L437.41,104.40 L438.02,104.15 L438.62,103.90 L439.23,103.65 L439.83,103.40 L440.44,103.16 L441.04,102.92 L441.65,102.68 L442.25,102.44 L442.86,102.21 L443.47,101.98 L444.07,101.75 L444.68,101.52 L445.28,101.30 L445.89,101.08 L446.49,100.86 L447.10,100.65 L447.70,100.43 L448.31,100.22 L448.91,100.01 L449.52,99.81 L450.13,99.60 L450.73,99.40 L451.34,99.20 L451.94,99.01 L452.55,98.81 L453.15,98.62 L453.76,98.43 L454.36,98.24 L454.97,98.05 L455.57,97.87 L456.18,97.68 L456.79,97.50 L457.39,97.32 L458.00,97.15 L458.60,96.97 L459.21,96.80 L459.81,96.63 L460.42,96.46 L461.02,96.29 L461.34,96.21 L461.63,96.13 L462.23,95.96 L462.84,95.80 L463.45,95.64 L464.05,95.47 L464.66,95.31 L465.26,95.15 L465.87,94.99 L466.47,94.83 L467.08,94.68 L467.68,94.52 L468.29,94.37 L468.89,94.21 L469.50,94.06 L470.11,93.91 L470.71,93.76 L471.32,93.61 L471.92,93.46 L472.53,93.32 L473.13,93.17 L473.74,93.03 L474.34,92.89 L474.95,92.74 L475.55,92.61 L476.16,92.47 L476.77,92.33 L477.37,92.20 L477.98,92.06 L478.58,91.93 L479.19,91.80 L479.79,91.67 L480.40,91.54 L481.00,91.42 L481.61,91.29 L482.21,91.17 L482.82,91.05 L483.43,90.93 L484.03,90.81 L484.64,90.70 L485.24,90.59 L485.85,90.47 L486.45,90.36 L487.06,90.26 L487.66,90.15 L488.27,90.05 L488.87,89.95 L489.48,89.85 L490.09,89.75" fill="none" stroke="#a03030" stroke-width="1.45"/>
<path d="M490.09,89.75 L490.76,89.61 L491.44,89.48 L492.11,89.34 L492.79,89.20 L493.47,89.07 L494.14,88.93 L494.82,88.80 L495.49,88.67 L496.17,88.53 L496.85,88.40 L497.52,88.27 L498.20,88.13 L498.88,88.00 L499.55,87.87 L500.23,87.74 L500.90,87.60 L501.58,87.47 L502.26,87.34 L502.93,87.21 L503.61,87.08 L504.28,86.95 L504.96,86.82 L505.64,86.69 L506.31,86.56 L506.99,86.43 L507.66,86.30 L508.34,86.18 L509.02,86.05 L509.69,85.92 L510.37,85.79 L511.05,85.67 L511.72,85.54 L512.40,85.41 L513.07,85.29 L513.75,85.16 L514.43,85.04 L515.10,84.91 L515.78,84.79 L516.45,84.66 L517.13,84.54 L517.81,84.42 L518.48,84.29 L519.16,84.17 L519.84,84.05 L520.51,83.93 L521.19,83.80 L521.86,83.68 L522.50,83.57 L522.54,83.56 L523.22,83.44 L523.89,83.32 L524.57,83.20 L525.24,83.08 L525.92,82.96 L526.60,82.84 L527.27,82.72 L527.95,82.61 L528.63,82.49 L529.30,82.37 L529.98,82.25 L530.65,82.14 L531.33,82.02 L532.01,81.90 L532.68,81.78 L533.36,81.67 L534.03,81.55 L534.71,81.44 L535.39,81.32 L536.06,81.21 L536.74,81.09 L537.42,80.98 L538.09,80.86 L538.77,80.75 L539.44,80.64 L540.12,80.52 L540.80,80.41 L541.47,80.30 L542.15,80.18 L542.82,80.07 L543.50,79.96 L544.18,79.85 L544.85,79.74 L545.53,79.63 L546.20,79.51 L546.88,79.40 L547.56,79.29 L548.23,79.18 L548.91,79.07 L549.59,78.96 L550.26,78.85 L550.94,78.74 L551.61,78.64 L552.29,78.53 L552.97,78.42 L553.64,78.31 L554.32,78.20 L554.99,78.10 L555.67,77.99 L556.35,77.88 L557.02,77.77 L557.67,77.67 L557.70,77.67 L558.38,77.56 L559.05,77.46 L559.73,77.35 L560.40,77.24 L561.08,77.14 L561.76,77.03 L562.43,76.93 L563.11,76.82 L563.78,76.72 L564.46,76.61 L565.14,76.51 L565.81,76.41 L566.49,76.30 L567.17,76.20 L567.84,76.10 L568.52,75.99 L569.19,75.89 L569.87,75.79 L570.55,75.69 L571.22,75.58 L571.90,75.48 L572.57,75.38 L573.25,75.28 L573.93,75.18 L574.60,75.08 L575.28,74.98 L575.96,74.88 L576.63,74.78 L577.31,74.68 L577.98,74.58 L578.66,74.48 L579.34,74.38 L580.01,74.28 L580.69,74.19 L581.36,74.09 L582.04,73.99 L582.72,73.89 L583.39,73.80 L584.07,73.70 L584.74,73.60 L585.42,73.51 L586.10,73.41 L586.77,73.32 L587.45,73.22 L588.13,73.13 L588.80,73.03 L589.48,72.94 L589.78,72.90 L590.15,72.85 L590.83,72.75 L591.51,72.66 L592.18,72.57 L592.86,72.48 L593.53,72.38 L594.21,72.29 L594.89,72.20 L595.56,72.11 L596.24,72.02 L596.92,71.93 L597.59,71.83 L598.27,71.74 L598.94,71.65 L599.62,71.56 L600.30,71.47 L600.97,71.38 L601.65,71.29 L602.32,71.20 L603.00,71.12 L603.68,71.03 L604.35,70.94 L605.03,70.85 L605.71,70.76 L606.38,70.67 L607.06,70.59 L607.73,70.50 L608.41,70.41 L609.09,70.33 L609.76,70.24 L610.44,70.15 L611.11,70.07 L611.79,69.98 L612.47,69.90 L613.14,69.81 L613.82,69.73 L614.50,69.64 L615.17,69.56 L615.85,69.47 L616.52,69.39 L617.20,69.31 L617.88,69.22 L618.55,69.14 L619.23,69.06 L619.90,68.97 L620.58,68.89 L621.26,68.81 L621.93,68.73 L622.61,68.65 L623.28,68.57 L623.96,68.49 L624.64,68.41" fill="none" stroke="#474747" stroke-width="1.45"/>
<path d="M369.60,290.80 L370.88,290.80 L372.16,290.80 L373.44,290.80 L374.73,290.80 L376.01,290.80 L377.09,290.80 L377.29,290.80 L378.57,290.80 L379.39,290.80 L379.85,290.80 L381.13,290.80 L382.42,290.80 L383.70,290.80 L384.43,290.80 L384.98,290.11 L386.26,284.21 L387.54,275.00 L388.82,265.79 L388.87,265.53 L390.11,257.12 L391.39,247.79 L392.67,238.96 L393.15,236.04 L393.95,231.61 L395.23,225.20 L396.51,218.92 L396.51,218.90 L397.80,212.32 L399.08,205.76 L400.18,200.38 L400.36,199.54 L401.64,193.51 L402.92,187.54 L404.20,181.76 L405.48,176.25 L406.77,171.12 L407.83,167.25 L408.05,166.48 L409.33,162.18 L410.61,158.10 L411.89,154.24 L413.17,150.57 L414.46,147.07 L415.74,143.72 L417.02,140.51 L417.92,138.33 L418.30,137.41 L419.58,134.41 L420.86,131.51 L422.15,128.72 L423.43,126.05 L424.71,123.50 L425.99,121.10 L427.27,118.83 L427.70,118.11 L428.55,116.71 L429.83,114.66 L431.12,112.69 L432.40,110.79 L433.68,108.98 L434.96,107.24 L436.24,105.58 L437.52,104.00 L438.81,102.51 L439.93,101.26 L440.09,101.09 L441.37,99.74 L442.65,98.42 L443.93,97.13 L445.21,95.88 L446.50,94.67 L447.78,93.49 L449.06,92.34 L450.34,91.23 L451.62,90.15 L452.90,89.11 L454.19,88.09 L455.47,87.11 L456.75,86.16 L458.03,85.24 L459.31,84.35 L460.59,83.49 L461.34,83.01 L461.87,82.67 L463.16,81.86 L464.44,81.08 L465.72,80.33 L467.00,79.59 L468.28,78.87 L469.56,78.17 L470.85,77.49 L472.13,76.83 L473.41,76.18 L474.69,75.54 L475.97,74.91 L477.25,74.30 L478.54,73.69 L479.82,73.09 L481.10,72.50 L482.38,71.91 L483.66,71.32 L484.94,70.74 L486.23,70.16 L487.51,69.58 L488.79,69.00 L490.07,68.41 L490.09,68.41 L491.35,67.83 L492.63,67.25 L493.91,66.67 L495.20,66.10 L496.48,65.53 L497.76,64.96 L499.04,64.40 L500.32,63.85 L501.60,63.30 L502.89,62.75 L504.17,62.21 L505.45,61.67 L506.73,61.14 L508.01,60.61 L509.29,60.08 L510.58,59.56 L511.86,59.04 L513.14,58.53 L514.42,58.02 L515.70,57.52 L516.98,57.02 L518.26,56.53 L519.55,56.04 L520.83,55.55 L522.11,55.07 L522.50,54.93 L523.39,54.60 L524.67,54.13 L525.95,53.67 L527.24,53.21 L528.52,52.76 L529.80,52.31 L531.08,51.87 L532.36,51.43 L533.64,51.00 L534.93,50.57 L536.21,50.14 L537.49,49.72 L538.77,49.29 L540.05,48.87 L541.33,48.46 L542.62,48.04 L543.90,47.62 L545.18,47.21 L546.46,46.80 L547.74,46.38 L549.02,45.97 L550.30,45.55 L551.59,45.14 L552.87,44.72 L554.15,44.30 L555.43,43.88 L556.71,43.45 L557.67,43.13 L557.99,43.03 L559.28,42.60 L560.56,42.17 L561.84,41.74 L563.12,41.31 L564.40,40.87 L565.68,40.44 L566.97,40.01 L568.25,39.58 L569.53,39.15 L570.81,38.72 L572.09,38.29 L573.37,37.86 L574.66,37.43 L575.94,37.00 L577.22,36.57 L578.50,36.14 L579.78,35.72 L581.06,35.29 L582.34,34.87 L583.63,34.45 L584.91,34.03 L586.19,33.62 L587.47,33.20 L588.75,32.79 L589.78,32.46 L590.03,32.38 L591.32,31.97 L592.60,31.57 L593.88,31.16 L595.16,30.76 L596.44,30.35 L597.72,29.95 L599.01,29.55 L600.29,29.15 L601.57,28.75 L602.85,28.36 L604.13,27.96 L605.41,27.56 L606.69,27.17 L607.98,26.78 L609.26,26.39 L610.54,26.00 L611.82,25.61 L613.10,25.22 L614.38,24.83 L615.67,24.45 L616.95,24.07 L618.23,23.68 L619.51,23.30 L620.79,22.92 L622.07,22.55 L623.36,22.17 L624.64,21.79" fill="none" stroke="#474747" stroke-width="1.45"/>
<path d="M369.60,290.80 L370.88,290.80 L372.16,290.80 L373.44,290.80 L374.73,290.80 L376.01,290.80 L377.29,290.80 L378.57,290.80 L379.85,290.80 L381.13,290.80 L382.42,290.80 L383.70,290.80 L384.43,290.80 L384.98,290.69 L386.26,289.66 L387.54,287.88 L388.82,285.74 L389.48,284.62 L390.11,283.49 L391.39,280.68 L392.67,277.29 L393.95,273.39 L395.23,269.06 L395.90,266.65 L396.51,264.26 L397.80,258.48 L399.08,251.79 L400.36,244.39 L401.64,236.48 L401.71,236.04 L402.92,227.18 L404.20,216.39 L405.48,205.95 L406.30,200.38 L406.77,197.55 L408.05,190.27 L409.33,183.67 L410.61,177.75 L411.80,172.86 L411.89,172.51 L413.17,167.80 L414.46,163.49 L415.74,159.57 L417.02,156.03 L417.92,153.77 L418.30,152.85 L419.58,149.92 L420.86,147.20 L422.15,144.65 L423.43,142.25 L424.71,139.97 L425.99,137.78 L427.27,135.66 L427.70,134.96 L428.55,133.59 L429.83,131.60 L431.12,129.69 L432.40,127.84 L433.68,126.05 L434.96,124.31 L436.24,122.61 L437.52,120.93 L438.81,119.28 L439.93,117.83 L440.09,117.63 L441.37,115.98 L442.65,114.34 L443.93,112.70 L445.21,111.08 L446.50,109.46 L447.78,107.86 L449.06,106.28 L450.34,104.73 L451.62,103.20 L452.90,101.70 L454.19,100.23 L455.47,98.81 L456.75,97.42 L458.03,96.08 L459.31,94.78 L460.59,93.54 L461.34,92.84 L461.87,92.34 L463.16,91.17 L464.44,90.02 L465.72,88.89 L467.00,87.78 L468.28,86.68 L469.56,85.60 L470.85,84.55 L472.13,83.51 L473.41,82.49 L474.69,81.49 L475.97,80.52 L477.25,79.56 L478.54,78.63 L479.82,77.71 L481.10,76.82 L482.38,75.95 L483.66,75.11 L484.94,74.28 L486.23,73.48 L487.51,72.71 L488.79,71.95 L490.07,71.22 L490.09,71.21 L491.35,70.51 L492.63,69.81 L493.91,69.13 L495.20,68.45 L496.48,67.79 L497.76,67.14 L499.04,66.51 L500.32,65.88 L501.60,65.27 L502.89,64.67 L504.17,64.08 L505.45,63.50 L506.73,62.94 L508.01,62.38 L509.29,61.84 L510.58,61.31 L511.86,60.79 L513.14,60.28 L514.42,59.78 L515.70,59.30 L516.98,58.82 L518.26,58.35 L519.55,57.90 L520.83,57.46 L522.11,57.02 L522.50,56.89 L523.39,56.60 L524.67,56.19 L525.95,55.79 L527.24,55.40 L528.52,55.02 L529.80,54.65 L531.08,54.28 L532.36,53.93 L533.64,53.58 L534.93,53.24 L536.21,52.90 L537.49,52.57 L538.77,52.25 L540.05,51.93 L541.33,51.61 L542.62,51.30 L543.90,50.98 L545.18,50.67 L546.46,50.36 L547.74,50.06 L549.02,49.75 L550.30,49.44 L551.59,49.13 L552.87,48.82 L554.15,48.50 L555.43,48.19 L556.71,47.87 L557.67,47.63 L557.99,47.54 L559.28,47.22 L560.56,46.89 L561.84,46.57 L563.12,46.25 L564.40,45.92 L565.68,45.60 L566.97,45.28 L568.25,44.96 L569.53,44.64 L570.81,44.32 L572.09,44.01 L573.37,43.69 L574.66,43.37 L575.94,43.06 L577.22,42.75 L578.50,42.44 L579.78,42.13 L581.06,41.82 L582.34,41.51 L583.63,41.20 L584.91,40.90 L586.19,40.60 L587.47,40.30 L588.75,40.00 L589.78,39.76 L590.03,39.71 L591.32,39.41 L592.60,39.12 L593.88,38.82 L595.16,38.53 L596.44,38.24 L597.72,37.95 L599.01,37.67 L600.29,37.38 L601.57,37.10 L602.85,36.81 L604.13,36.53 L605.41,36.25 L606.69,35.97 L607.98,35.69 L609.26,35.41 L610.54,35.13 L611.82,34.86 L613.10,34.58 L614.38,34.31 L615.67,34.04 L616.95,33.77 L618.23,33.50 L619.51,33.24 L620.79,32.97 L622.07,32.71 L623.36,32.44 L624.64,32.18" fill="none" stroke="#474747" stroke-width="1.45"/>
<path d="M369.60,290.80 L370.88,290.80 L372.16,290.80 L373.44,290.80 L374.73,290.80 L376.01,290.80 L377.09,290.80 L377.29,290.80 L378.57,290.80 L379.39,290.80 L379.85,276.02 L380.15,262.72 L380.91,237.45 L381.13,235.76 L382.42,229.90 L383.70,226.83 L384.58,223.41 L384.98,220.91 L386.26,209.58 L387.34,200.94 L387.54,199.74 L388.82,193.00 L390.11,187.43 L391.01,184.10 L391.39,182.78 L392.67,178.50 L393.95,174.78 L395.23,172.01 L395.59,171.46 L396.51,170.24 L397.80,168.71 L399.08,167.36 L400.36,166.18 L401.64,165.17 L402.92,164.32 L404.20,163.64 L405.48,163.11 L405.68,163.04 L406.77,162.69 L408.05,162.32 L409.33,161.99 L410.61,161.69 L411.89,161.43 L413.17,161.20 L414.46,160.99 L415.74,160.80 L417.02,160.63 L417.92,160.51 L418.30,160.46 L419.58,160.30 L420.86,160.14 L422.15,160.00 L423.43,159.85 L424.71,159.72 L425.99,159.59 L427.27,159.46 L428.55,159.35 L429.83,159.24 L431.12,159.14 L432.40,159.06 L433.68,158.98 L434.96,158.91 L436.24,158.85 L436.88,158.82 L437.52,158.80 L438.81,158.75 L440.09,158.71 L441.37,158.67 L442.65,158.63 L443.93,158.60 L445.21,158.56 L446.50,158.53 L447.78,158.50 L449.06,158.47 L450.34,158.45 L451.62,158.42 L452.90,158.40 L454.19,158.37 L455.47,158.35 L456.75,158.33 L458.03,158.31 L459.31,158.29 L460.59,158.27 L461.34,158.26 L461.87,158.26 L463.16,158.24 L464.44,158.22 L465.72,158.21 L467.00,158.19 L468.28,158.18 L469.56,158.17 L470.85,158.16 L472.13,158.15 L473.41,158.14 L474.69,158.13 L475.97,158.12 L477.25,158.11 L478.54,158.10 L479.82,158.08 L481.10,158.07 L482.38,158.06 L483.66,158.05 L484.94,158.04 L486.23,158.03 L487.51,158.01 L488.79,158.00 L490.07,157.98 L490.09,157.98 L491.35,157.97 L492.63,157.95 L493.91,157.93 L495.20,157.91 L496.48,157.89 L497.76,157.87 L499.04,157.85 L500.32,157.83 L501.60,157.80 L502.89,157.78 L504.17,157.76 L505.45,157.73 L506.73,157.71 L508.01,157.68 L509.29,157.65 L510.58,157.63 L511.86,157.60 L513.14,157.57 L514.42,157.54 L515.70,157.52 L516.98,157.49 L518.26,157.46 L519.55,157.43 L520.83,157.40 L522.11,157.37 L523.39,157.34 L524.67,157.31 L525.95,157.28 L527.24,157.25 L528.52,157.22 L529.80,157.19 L531.08,157.16 L532.36,157.13 L533.64,157.10 L534.93,157.07 L536.21,157.04 L537.49,157.01 L538.77,156.98 L540.05,156.95 L541.33,156.92 L542.62,156.89 L543.90,156.86 L545.18,156.83 L546.46,156.81 L547.74,156.78 L549.02,156.75 L550.30,156.72 L551.59,156.70 L552.87,156.67 L554.15,156.65 L555.43,156.62 L556.71,156.60 L557.67,156.58 L557.99,156.57 L559.28,156.55 L560.56,156.52 L561.84,156.50 L563.12,156.48 L564.40,156.45 L565.68,156.43 L566.97,156.41 L568.25,156.38 L569.53,156.36 L570.81,156.34 L572.09,156.31 L573.37,156.29 L574.66,156.27 L575.94,156.25 L577.22,156.22 L578.50,156.20 L579.78,156.18 L581.06,156.16 L582.34,156.13 L583.63,156.11 L584.91,156.09 L586.19,156.07 L587.47,156.05 L588.75,156.02 L590.03,156.00 L591.32,155.98 L592.60,155.96 L593.88,155.94 L595.16,155.92 L596.44,155.90 L597.72,155.88 L599.01,155.85 L600.29,155.83 L601.57,155.81 L602.85,155.79 L604.13,155.77 L605.41,155.75 L606.69,155.73 L607.98,155.71 L609.26,155.69 L610.54,155.67 L611.82,155.65 L613.10,155.63 L614.38,155.61 L615.67,155.59 L616.95,155.57 L618.23,155.55 L619.51,155.53 L620.79,155.51 L622.07,155.49 L623.36,155.47 L624.64,155.45" fill="none" stroke="#474747" stroke-width="1.45"/>
<circle cx="369.60" cy="290.80" r="1.6" fill="#111"/>
<circle cx="395.59" cy="186.90" r="1.6" fill="#111"/>
<circle cx="417.92" cy="173.14" r="1.6" fill="#111"/>
<circle cx="490.09" cy="167.53" r="1.6" fill="#111"/>
<circle cx="369.60" cy="290.80" r="1.6" fill="#111"/>
<circle cx="395.59" cy="183.53" r="1.6" fill="#111"/>
<circle cx="417.92" cy="171.18" r="1.6" fill="#111"/>
<circle cx="490.09" cy="165.84" r="1.6" fill="#111"/>
<circle cx="624.64" cy="164.44" r="1.6" fill="#111"/>
<circle cx="376.02" cy="231.83" r="1.6" fill="#111"/>
<circle cx="369.60" cy="290.80" r="1.6" fill="#111"/>
<circle cx="395.59" cy="174.27" r="1.6" fill="#111"/>
<circle cx="417.92" cy="165.56" r="1.6" fill="#111"/>
<circle cx="490.09" cy="163.04" r="1.6" fill="#111"/>
<circle cx="624.64" cy="160.51" r="1.6" fill="#111"/>
<circle cx="369.60" cy="290.80" r="1.6" fill="#111"/>
<circle cx="395.59" cy="164.44" r="1.6" fill="#111"/>
<circle cx="417.92" cy="153.21" r="1.6" fill="#111"/>
<circle cx="490.09" cy="149.28" r="1.6" fill="#111"/>
<circle cx="624.64" cy="144.50" r="1.6" fill="#111"/>
<circle cx="383.67" cy="191.12" r="1.6" fill="#111"/>
<circle cx="369.60" cy="290.80" r="1.6" fill="#111"/>
<circle cx="395.59" cy="162.19" r="1.6" fill="#111"/>
<circle cx="417.92" cy="144.78" r="1.6" fill="#111"/>
<circle cx="490.09" cy="137.48" r="1.6" fill="#111"/>
<circle cx="624.64" cy="129.62" r="1.6" fill="#111"/>
<circle cx="369.60" cy="290.80" r="1.6" fill="#111"/>
<circle cx="395.59" cy="157.70" r="1.6" fill="#111"/>
<circle cx="417.92" cy="134.96" r="1.6" fill="#111"/>
<circle cx="490.09" cy="122.32" r="1.6" fill="#111"/>
<circle cx="624.64" cy="110.81" r="1.6" fill="#111"/>
<circle cx="376.02" cy="224.81" r="1.6" fill="#111"/>
<circle cx="369.60" cy="290.80" r="1.6" fill="#111"/>
<circle cx="395.59" cy="154.61" r="1.6" fill="#111"/>
<circle cx="417.92" cy="126.25" r="1.6" fill="#111"/>
<circle cx="490.09" cy="107.44" r="1.6" fill="#111"/>
<circle cx="624.64" cy="91.99" r="1.6" fill="#111"/>
<circle cx="369.60" cy="290.80" r="1.6" fill="#111"/>
<circle cx="395.59" cy="147.59" r="1.6" fill="#111"/>
<circle cx="417.92" cy="109.12" r="1.6" fill="#111"/>
<circle cx="490.09" cy="75.71" r="1.6" fill="#111"/>
<circle cx="624.64" cy="48.75" r="1.6" fill="#111"/>
<circle cx="383.67" cy="179.88" r="1.6" fill="#111"/>
<circle cx="369.60" cy="290.80" r="2.2" fill="#9a2020"/>
<circle cx="376.02" cy="265.25" r="2.2" fill="#9a2020"/>
<circle cx="379.08" cy="237.45" r="2.2" fill="#9a2020"/>
<circle cx="383.36" cy="170.62" r="2.2" fill="#9a2020"/>
<circle cx="395.29" cy="140.85" r="2.2" fill="#9a2020"/>
<circle cx="417.92" cy="115.02" r="2.2" fill="#9a2020"/>
<circle cx="490.09" cy="89.75" r="2.2" fill="#9a2020"/>
<circle cx="624.64" cy="68.41" r="1.6" fill="#111"/>
<circle cx="369.60" cy="290.80" r="1.6" fill="#111"/>
<circle cx="377.09" cy="290.80" r="1.6" fill="#111"/>
<circle cx="379.39" cy="290.80" r="1.6" fill="#111"/>
<circle cx="384.43" cy="290.80" r="1.6" fill="#111"/>
<circle cx="396.51" cy="218.92" r="1.6" fill="#111"/>
<circle cx="417.92" cy="138.33" r="1.6" fill="#111"/>
<circle cx="490.09" cy="68.41" r="1.6" fill="#111"/>
<circle cx="624.64" cy="21.79" r="1.6" fill="#111"/>
<circle cx="395.90" cy="266.65" r="1.6" fill="#111"/>
<circle cx="417.92" cy="153.77" r="1.6" fill="#111"/>
<circle cx="490.09" cy="71.21" r="1.6" fill="#111"/>
<circle cx="624.64" cy="32.18" r="1.6" fill="#111"/>
<circle cx="384.58" cy="223.41" r="1.6" fill="#111"/>
<circle cx="395.59" cy="171.46" r="1.6" fill="#111"/>
<circle cx="417.92" cy="160.51" r="1.6" fill="#111"/>
<circle cx="490.09" cy="157.98" r="1.6" fill="#111"/>
<circle cx="624.64" cy="155.45" r="1.6" fill="#111"/><line x1="96.2" y1="193.6" x2="114.8" y2="193.6" stroke="#6e6e6e" stroke-width="2.3"/><circle cx="105.5" cy="193.6" r="2.0" fill="#111"/><text x="117.3" y="198.2" class="lg">H=1.70m</text><line x1="178.8" y1="193.6" x2="197.4" y2="193.6" stroke="#6e6e6e" stroke-width="2.3"/><circle cx="188.1" cy="193.6" r="2.0" fill="#111"/><text x="199.9" y="198.2" class="lg">H=4.50m</text><line x1="96.2" y1="207.4" x2="114.8" y2="207.4" stroke="#6e6e6e" stroke-width="2.3"/><circle cx="105.5" cy="207.4" r="1.0" fill="#111"/><text x="117.3" y="212.0" class="lg">H=7.50m</text><line x1="178.8" y1="207.4" x2="197.4" y2="207.4" stroke="#6e6e6e" stroke-width="2.3"/><circle cx="188.1" cy="207.4" r="1.0" fill="#111"/><text x="199.9" y="212.0" class="lg">H=11.50m</text><line x1="96.2" y1="221.2" x2="114.8" y2="221.2" stroke="#6e6e6e" stroke-width="2.3"/><circle cx="105.5" cy="221.2" r="2.0" fill="#111"/><text x="117.3" y="225.8" class="lg">H=15.50m</text><line x1="178.8" y1="221.2" x2="197.4" y2="221.2" stroke="#6e6e6e" stroke-width="2.3"/><circle cx="188.1" cy="221.2" r="2.0" fill="#111"/><text x="199.9" y="225.8" class="lg">H=19.50m</text><line x1="96.2" y1="235.0" x2="114.8" y2="235.0" stroke="#6e6e6e" stroke-width="2.3"/><circle cx="105.5" cy="235.0" r="2.0" fill="#111"/><text x="117.3" y="239.6" class="lg">H=23.50m</text><line x1="178.8" y1="235.0" x2="197.4" y2="235.0" stroke="#6e6e6e" stroke-width="2.3"/><circle cx="188.1" cy="235.0" r="2.0" fill="#111"/><text x="199.9" y="239.6" class="lg">H=27.50m</text><line x1="96.2" y1="248.8" x2="114.8" y2="248.8" stroke="#6e6e6e" stroke-width="2.3"/><circle cx="105.5" cy="248.8" r="2.0" fill="#111"/><text x="117.3" y="253.4" class="lg">H=31.00m</text><line x1="178.8" y1="248.8" x2="197.4" y2="248.8" stroke="#6e6e6e" stroke-width="2.3"/><circle cx="188.1" cy="248.8" r="1.2" fill="#111"/><text x="199.9" y="253.4" class="lg">H=34.00m</text><line x1="96.2" y1="262.6" x2="114.8" y2="262.6" stroke="#6e6e6e" stroke-width="2.3"/><circle cx="105.5" cy="262.6" r="3.2" fill="#111"/><text x="117.3" y="267.2" class="lg">H=36.00m</text><line x1="457.0" y1="191.7" x2="474.8" y2="191.7" stroke="#7fa6e0" stroke-width="1.7"/><circle cx="465.9" cy="191.7" r="2.0" fill="#111"/><text x="477.8" y="195.6" class="lg2">H=1.70m</text><line x1="534.8" y1="191.7" x2="552.6" y2="191.7" stroke="#3c3c3c" stroke-width="1.7"/><circle cx="543.7" cy="191.7" r="2.0" fill="#111"/><text x="555.6" y="195.6" class="lg2">H=4.50m</text><line x1="457.0" y1="205.8" x2="474.8" y2="205.8" stroke="#3c3c3c" stroke-width="1.7"/><circle cx="465.9" cy="205.8" r="1.0" fill="#111"/><text x="477.8" y="209.7" class="lg2">H=7.50m</text><line x1="534.8" y1="205.8" x2="552.6" y2="205.8" stroke="#3c3c3c" stroke-width="1.7"/><circle cx="543.7" cy="205.8" r="1.0" fill="#111"/><text x="555.6" y="209.7" class="lg2">H=11.50m</text><line x1="457.0" y1="219.8" x2="474.8" y2="219.8" stroke="#3c3c3c" stroke-width="1.7"/><circle cx="465.9" cy="219.8" r="2.0" fill="#111"/><text x="477.8" y="223.7" class="lg2">H=15.50</text><line x1="534.8" y1="219.8" x2="552.6" y2="219.8" stroke="#3c3c3c" stroke-width="1.7"/><circle cx="543.7" cy="219.8" r="2.0" fill="#111"/><text x="555.6" y="223.7" class="lg2">H=19.50m</text><line x1="457.0" y1="233.8" x2="474.8" y2="233.8" stroke="#3c3c3c" stroke-width="1.7"/><circle cx="465.9" cy="233.8" r="2.0" fill="#111"/><text x="477.8" y="237.8" class="lg2">H=23.50m</text><line x1="534.8" y1="233.8" x2="552.6" y2="233.8" stroke="#9a2a2a" stroke-width="1.7"/><circle cx="543.7" cy="233.8" r="2.6" fill="#8a1c1c"/><text x="555.6" y="237.8" class="lg2">H=27.50m</text><line x1="457.0" y1="247.9" x2="474.8" y2="247.9" stroke="#3c3c3c" stroke-width="1.7"/><circle cx="465.9" cy="247.9" r="2.0" fill="#111"/><text x="477.8" y="251.8" class="lg2">H=31.00m</text><line x1="534.8" y1="247.9" x2="552.6" y2="247.9" stroke="#3c3c3c" stroke-width="1.7"/><circle cx="543.7" cy="247.9" r="1.2" fill="#111"/><text x="555.6" y="251.8" class="lg2">H=34.00m</text><line x1="457.0" y1="261.9" x2="474.8" y2="261.9" stroke="#3c3c3c" stroke-width="1.7"/><circle cx="465.9" cy="261.9" r="2.0" fill="#111"/><text x="477.8" y="265.8" class="lg2">H=36.00m</text></g><rect x="0.75" y="0.75" width="340" height="339.8" fill="none" stroke="#303030" stroke-width="1.5"/><rect x="344.5" y="2" width="339.5" height="339.3" fill="none" stroke="#333" stroke-width="1.3"/><line x1="684" y1="2" x2="684" y2="342" stroke="#666" stroke-width="2"/><text x="95.6" y="404.1" class="cap">(a) pile S1</text><text x="456.6" y="404.1" class="cap">(b) pile S2</text></svg>
</body></html>
